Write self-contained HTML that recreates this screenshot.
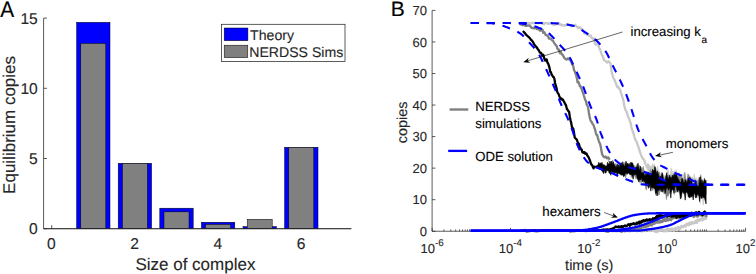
<!DOCTYPE html>
<html><head><meta charset="utf-8"><style>
html,body{margin:0;padding:0;background:#fff;}
body{width:756px;height:274px;overflow:hidden;font-family:"Liberation Sans",sans-serif;}
svg{display:block;}
</style></head><body>
<svg width="756" height="274" viewBox="0 0 756 274" font-family="Liberation Sans, sans-serif" text-rendering="geometricPrecision"><text transform="translate(0.35,16.7) scale(0.97,1.04)" font-size="21.5" fill="#000" stroke="#000" stroke-width="0.12">A</text>
<path d="M43.6,18.10 V228.7 H351.3" fill="none" stroke="#262626" stroke-width="0.75"/>
<path d="M43.6,228.70 h3.4" stroke="#262626" stroke-width="0.75"/>
<text transform="translate(37.80,234.20) scale(1,1.0)" font-size="15.6" text-anchor="end" fill="#262626" stroke="#262626" stroke-width="0.12" >0</text>
<path d="M43.6,158.50 h3.4" stroke="#262626" stroke-width="0.75"/>
<text transform="translate(37.80,164.00) scale(1,1.0)" font-size="15.6" text-anchor="end" fill="#262626" stroke="#262626" stroke-width="0.12" >5</text>
<path d="M43.6,88.30 h3.4" stroke="#262626" stroke-width="0.75"/>
<text transform="translate(37.80,93.80) scale(1,1.0)" font-size="15.6" text-anchor="end" fill="#262626" stroke="#262626" stroke-width="0.12" >10</text>
<path d="M43.6,18.10 h3.4" stroke="#262626" stroke-width="0.75"/>
<text transform="translate(37.80,23.60) scale(1,1.0)" font-size="15.6" text-anchor="end" fill="#262626" stroke="#262626" stroke-width="0.12" >15</text>
<path d="M51.70,228.7 v-3.6" stroke="#262626" stroke-width="0.75"/>
<text transform="translate(51.40,248.80) scale(1,1.0)" font-size="15.6" text-anchor="middle" fill="#262626" stroke="#262626" stroke-width="0.12" >0</text>
<path d="M134.90,228.7 v-3.6" stroke="#262626" stroke-width="0.75"/>
<text transform="translate(134.60,248.80) scale(1,1.0)" font-size="15.6" text-anchor="middle" fill="#262626" stroke="#262626" stroke-width="0.12" >2</text>
<path d="M218.10,228.7 v-3.6" stroke="#262626" stroke-width="0.75"/>
<text transform="translate(217.80,248.80) scale(1,1.0)" font-size="15.6" text-anchor="middle" fill="#262626" stroke="#262626" stroke-width="0.12" >4</text>
<path d="M301.30,228.7 v-3.6" stroke="#262626" stroke-width="0.75"/>
<text transform="translate(301.00,248.80) scale(1,1.0)" font-size="15.6" text-anchor="middle" fill="#262626" stroke="#262626" stroke-width="0.12" >6</text>
<rect x="76.60" y="22.31" width="33.40" height="206.39" fill="#0000ff" stroke="#000" stroke-width="0.5"/>
<rect x="118.20" y="163.27" width="33.40" height="65.43" fill="#0000ff" stroke="#000" stroke-width="0.5"/>
<rect x="159.80" y="208.20" width="33.40" height="20.50" fill="#0000ff" stroke="#000" stroke-width="0.5"/>
<rect x="201.40" y="222.24" width="33.40" height="6.46" fill="#0000ff" stroke="#000" stroke-width="0.5"/>
<rect x="243.00" y="226.59" width="33.40" height="2.11" fill="#0000ff" stroke="#000" stroke-width="0.5"/>
<rect x="284.60" y="147.27" width="33.40" height="81.43" fill="#0000ff" stroke="#000" stroke-width="0.5"/>
<rect x="80.80" y="43.37" width="25.00" height="185.33" fill="#808080" stroke="#000" stroke-width="0.5"/>
<rect x="122.40" y="163.27" width="25.00" height="65.43" fill="#808080" stroke="#000" stroke-width="0.5"/>
<rect x="164.00" y="211.85" width="25.00" height="16.85" fill="#808080" stroke="#000" stroke-width="0.5"/>
<rect x="205.60" y="224.35" width="25.00" height="4.35" fill="#808080" stroke="#000" stroke-width="0.5"/>
<rect x="247.20" y="219.29" width="25.00" height="9.41" fill="#808080" stroke="#000" stroke-width="0.5"/>
<rect x="288.80" y="147.27" width="25.00" height="81.43" fill="#808080" stroke="#000" stroke-width="0.5"/>
<path d="M43.6,228.7 H351.3" fill="none" stroke="#262626" stroke-width="0.75"/>
<text transform="translate(135.40,269.50) scale(1,1.0)" font-size="17" text-anchor="start" fill="#262626" stroke="#262626" stroke-width="0.12" >Size of complex</text>
<text transform="translate(14.6,193.9) rotate(-90)" font-size="17" fill="#262626" stroke="#262626" stroke-width="0.12">Equilibrium copies</text>
<rect x="221.5" y="24.3" width="123.5" height="37.2" fill="#fff" stroke="#262626" stroke-width="0.75"/>
<rect x="224.2" y="28" width="23.7" height="12.7" fill="#0000ff" stroke="#000" stroke-width="0.5"/>
<rect x="224.2" y="45.2" width="23.6" height="12.5" fill="#808080" stroke="#000" stroke-width="0.5"/>
<text transform="translate(250.12,39.60) scale(1,1.0)" font-size="14.1" text-anchor="start" fill="#262626" stroke="#262626" stroke-width="0.12" >Theory</text>
<text transform="translate(249.27,57.00) scale(1,1.0)" font-size="14.1" text-anchor="start" fill="#262626" stroke="#262626" stroke-width="0.12" >NERDSS Sims</text>
<text transform="translate(390.82,16.30) scale(1,1.0)" font-size="21.0" text-anchor="start" fill="#000" stroke="#000" stroke-width="0.12" >B</text>
<path d="M432.1,10.40 V231.25 H745.54" fill="none" stroke="#262626" stroke-width="0.75"/>
<path d="M432.1,231.25 h3.3" stroke="#262626" stroke-width="0.75"/>
<text transform="translate(427.00,235.95) scale(1,1.0)" font-size="13" text-anchor="end" fill="#262626" stroke="#262626" stroke-width="0.12" >0</text>
<path d="M432.1,199.70 h3.3" stroke="#262626" stroke-width="0.75"/>
<text transform="translate(427.00,204.40) scale(1,1.0)" font-size="13" text-anchor="end" fill="#262626" stroke="#262626" stroke-width="0.12" >10</text>
<path d="M432.1,168.15 h3.3" stroke="#262626" stroke-width="0.75"/>
<text transform="translate(427.00,172.85) scale(1,1.0)" font-size="13" text-anchor="end" fill="#262626" stroke="#262626" stroke-width="0.12" >20</text>
<path d="M432.1,136.60 h3.3" stroke="#262626" stroke-width="0.75"/>
<text transform="translate(427.00,141.30) scale(1,1.0)" font-size="13" text-anchor="end" fill="#262626" stroke="#262626" stroke-width="0.12" >30</text>
<path d="M432.1,105.05 h3.3" stroke="#262626" stroke-width="0.75"/>
<text transform="translate(427.00,109.75) scale(1,1.0)" font-size="13" text-anchor="end" fill="#262626" stroke="#262626" stroke-width="0.12" >40</text>
<path d="M432.1,73.50 h3.3" stroke="#262626" stroke-width="0.75"/>
<text transform="translate(427.00,78.20) scale(1,1.0)" font-size="13" text-anchor="end" fill="#262626" stroke="#262626" stroke-width="0.12" >50</text>
<path d="M432.1,41.95 h3.3" stroke="#262626" stroke-width="0.75"/>
<text transform="translate(427.00,46.65) scale(1,1.0)" font-size="13" text-anchor="end" fill="#262626" stroke="#262626" stroke-width="0.12" >60</text>
<path d="M432.1,10.40 h3.3" stroke="#262626" stroke-width="0.75"/>
<text transform="translate(427.00,15.10) scale(1,1.0)" font-size="13" text-anchor="end" fill="#262626" stroke="#262626" stroke-width="0.12" >70</text>
<path d="M432.10,231.25 v-3.4" stroke="#262626" stroke-width="0.75"/>
<path d="M443.89,231.25 v-1.8" stroke="#262626" stroke-width="0.75"/>
<path d="M450.79,231.25 v-1.8" stroke="#262626" stroke-width="0.75"/>
<path d="M455.69,231.25 v-1.8" stroke="#262626" stroke-width="0.75"/>
<path d="M459.49,231.25 v-1.8" stroke="#262626" stroke-width="0.75"/>
<path d="M462.59,231.25 v-1.8" stroke="#262626" stroke-width="0.75"/>
<path d="M465.21,231.25 v-1.8" stroke="#262626" stroke-width="0.75"/>
<path d="M467.48,231.25 v-1.8" stroke="#262626" stroke-width="0.75"/>
<path d="M469.49,231.25 v-1.8" stroke="#262626" stroke-width="0.75"/>
<text x="432.10" y="252.6" font-size="13" text-anchor="middle" fill="#262626" stroke="#262626" stroke-width="0.12">10<tspan font-size="9.8" dy="-6.2">-6</tspan></text>
<path d="M471.28,231.25 v-1.8" stroke="#262626" stroke-width="0.75"/>
<path d="M483.07,231.25 v-1.8" stroke="#262626" stroke-width="0.75"/>
<path d="M489.97,231.25 v-1.8" stroke="#262626" stroke-width="0.75"/>
<path d="M494.87,231.25 v-1.8" stroke="#262626" stroke-width="0.75"/>
<path d="M498.67,231.25 v-1.8" stroke="#262626" stroke-width="0.75"/>
<path d="M501.77,231.25 v-1.8" stroke="#262626" stroke-width="0.75"/>
<path d="M504.39,231.25 v-1.8" stroke="#262626" stroke-width="0.75"/>
<path d="M506.66,231.25 v-1.8" stroke="#262626" stroke-width="0.75"/>
<path d="M508.67,231.25 v-1.8" stroke="#262626" stroke-width="0.75"/>
<path d="M510.46,231.25 v-3.4" stroke="#262626" stroke-width="0.75"/>
<path d="M522.25,231.25 v-1.8" stroke="#262626" stroke-width="0.75"/>
<path d="M529.15,231.25 v-1.8" stroke="#262626" stroke-width="0.75"/>
<path d="M534.05,231.25 v-1.8" stroke="#262626" stroke-width="0.75"/>
<path d="M537.85,231.25 v-1.8" stroke="#262626" stroke-width="0.75"/>
<path d="M540.95,231.25 v-1.8" stroke="#262626" stroke-width="0.75"/>
<path d="M543.57,231.25 v-1.8" stroke="#262626" stroke-width="0.75"/>
<path d="M545.84,231.25 v-1.8" stroke="#262626" stroke-width="0.75"/>
<path d="M547.85,231.25 v-1.8" stroke="#262626" stroke-width="0.75"/>
<text x="510.46" y="252.6" font-size="13" text-anchor="middle" fill="#262626" stroke="#262626" stroke-width="0.12">10<tspan font-size="9.8" dy="-6.2">-4</tspan></text>
<path d="M549.64,231.25 v-1.8" stroke="#262626" stroke-width="0.75"/>
<path d="M561.43,231.25 v-1.8" stroke="#262626" stroke-width="0.75"/>
<path d="M568.33,231.25 v-1.8" stroke="#262626" stroke-width="0.75"/>
<path d="M573.23,231.25 v-1.8" stroke="#262626" stroke-width="0.75"/>
<path d="M577.03,231.25 v-1.8" stroke="#262626" stroke-width="0.75"/>
<path d="M580.13,231.25 v-1.8" stroke="#262626" stroke-width="0.75"/>
<path d="M582.75,231.25 v-1.8" stroke="#262626" stroke-width="0.75"/>
<path d="M585.02,231.25 v-1.8" stroke="#262626" stroke-width="0.75"/>
<path d="M587.03,231.25 v-1.8" stroke="#262626" stroke-width="0.75"/>
<path d="M588.82,231.25 v-3.4" stroke="#262626" stroke-width="0.75"/>
<path d="M600.61,231.25 v-1.8" stroke="#262626" stroke-width="0.75"/>
<path d="M607.51,231.25 v-1.8" stroke="#262626" stroke-width="0.75"/>
<path d="M612.41,231.25 v-1.8" stroke="#262626" stroke-width="0.75"/>
<path d="M616.21,231.25 v-1.8" stroke="#262626" stroke-width="0.75"/>
<path d="M619.31,231.25 v-1.8" stroke="#262626" stroke-width="0.75"/>
<path d="M621.93,231.25 v-1.8" stroke="#262626" stroke-width="0.75"/>
<path d="M624.20,231.25 v-1.8" stroke="#262626" stroke-width="0.75"/>
<path d="M626.21,231.25 v-1.8" stroke="#262626" stroke-width="0.75"/>
<text x="588.82" y="252.6" font-size="13" text-anchor="middle" fill="#262626" stroke="#262626" stroke-width="0.12">10<tspan font-size="9.8" dy="-6.2">-2</tspan></text>
<path d="M628.00,231.25 v-1.8" stroke="#262626" stroke-width="0.75"/>
<path d="M639.79,231.25 v-1.8" stroke="#262626" stroke-width="0.75"/>
<path d="M646.69,231.25 v-1.8" stroke="#262626" stroke-width="0.75"/>
<path d="M651.59,231.25 v-1.8" stroke="#262626" stroke-width="0.75"/>
<path d="M655.39,231.25 v-1.8" stroke="#262626" stroke-width="0.75"/>
<path d="M658.49,231.25 v-1.8" stroke="#262626" stroke-width="0.75"/>
<path d="M661.11,231.25 v-1.8" stroke="#262626" stroke-width="0.75"/>
<path d="M663.38,231.25 v-1.8" stroke="#262626" stroke-width="0.75"/>
<path d="M665.39,231.25 v-1.8" stroke="#262626" stroke-width="0.75"/>
<path d="M667.18,231.25 v-3.4" stroke="#262626" stroke-width="0.75"/>
<path d="M678.97,231.25 v-1.8" stroke="#262626" stroke-width="0.75"/>
<path d="M685.87,231.25 v-1.8" stroke="#262626" stroke-width="0.75"/>
<path d="M690.77,231.25 v-1.8" stroke="#262626" stroke-width="0.75"/>
<path d="M694.57,231.25 v-1.8" stroke="#262626" stroke-width="0.75"/>
<path d="M697.67,231.25 v-1.8" stroke="#262626" stroke-width="0.75"/>
<path d="M700.29,231.25 v-1.8" stroke="#262626" stroke-width="0.75"/>
<path d="M702.56,231.25 v-1.8" stroke="#262626" stroke-width="0.75"/>
<path d="M704.57,231.25 v-1.8" stroke="#262626" stroke-width="0.75"/>
<text x="667.18" y="252.6" font-size="13" text-anchor="middle" fill="#262626" stroke="#262626" stroke-width="0.12">10<tspan font-size="9.8" dy="-6.2">0</tspan></text>
<path d="M706.36,231.25 v-1.8" stroke="#262626" stroke-width="0.75"/>
<path d="M718.15,231.25 v-1.8" stroke="#262626" stroke-width="0.75"/>
<path d="M725.05,231.25 v-1.8" stroke="#262626" stroke-width="0.75"/>
<path d="M729.95,231.25 v-1.8" stroke="#262626" stroke-width="0.75"/>
<path d="M733.75,231.25 v-1.8" stroke="#262626" stroke-width="0.75"/>
<path d="M736.85,231.25 v-1.8" stroke="#262626" stroke-width="0.75"/>
<path d="M739.47,231.25 v-1.8" stroke="#262626" stroke-width="0.75"/>
<path d="M741.74,231.25 v-1.8" stroke="#262626" stroke-width="0.75"/>
<path d="M743.75,231.25 v-1.8" stroke="#262626" stroke-width="0.75"/>
<path d="M745.54,231.25 v-3.4" stroke="#262626" stroke-width="0.75"/>
<text x="745.54" y="252.6" font-size="13" text-anchor="middle" fill="#262626" stroke="#262626" stroke-width="0.12">10<tspan font-size="9.8" dy="-6.2">2</tspan></text>
<path d="M521.50,23.02 L522.20,23.02 L522.90,23.04 L523.60,23.02 L524.30,23.02 L525.00,23.06 L525.70,23.17 L526.40,23.31 L527.10,23.27 L527.80,23.02 L528.50,23.02 L529.20,23.02 L529.90,23.36 L530.60,23.76 L531.30,23.02 L532.00,23.02 L532.70,23.02 L533.40,23.02 L534.10,23.02 L534.80,23.02 L535.50,23.02 L536.20,23.02 L536.90,23.17 L537.60,23.16 L538.30,23.25 L539.00,23.02 L539.70,23.02 L540.40,23.02 L541.10,23.02 L541.80,23.02 L542.50,23.02 L543.20,23.47 L543.90,24.33 L544.60,23.10 L545.30,23.02 L546.00,23.10 L546.70,23.02 L547.40,23.63 L548.10,23.31 L548.80,23.88 L549.50,23.52 L550.20,23.02 L550.90,23.25 L551.60,23.02 L552.30,23.88 L553.00,24.01 L553.70,25.05 L554.40,24.57 L555.10,24.15 L555.80,24.15 L556.50,24.24 L557.20,23.02 L557.90,23.02 L558.60,23.86 L559.30,23.02 L560.00,24.86 L560.70,25.20 L561.40,24.94 L562.10,24.56 L562.80,25.38 L563.50,25.61 L564.20,25.07 L564.90,25.46 L565.60,25.68 L566.30,24.69 L567.00,23.89 L567.70,24.32 L568.40,24.55 L569.10,24.75 L569.80,25.30 L570.50,25.71 L571.20,26.49 L571.90,25.53 L572.60,25.68 L573.30,25.90 L574.00,25.83 L574.70,25.59 L575.40,24.77 L576.10,25.89 L576.80,26.79 L577.50,26.93 L578.20,28.07 L578.90,27.08 L579.60,27.09 L580.30,27.60 L581.00,28.92 L581.70,29.24 L582.40,29.40 L583.10,30.16 L583.80,31.45 L584.50,33.61 L585.20,32.72 L585.90,33.47 L586.60,34.48 L587.30,33.69 L588.00,33.85 L588.70,35.66 L589.40,35.75 L590.10,36.15 L590.80,35.50 L591.50,37.91 L592.20,38.32 L592.90,38.71 L593.60,37.97 L594.30,40.15 L595.00,43.55 L595.70,44.67 L596.40,44.36 L597.10,44.19 L597.80,43.88 L598.50,45.51 L599.20,48.21 L599.90,48.99 L600.60,51.04 L601.30,53.39 L602.00,55.41 L602.70,56.05 L603.40,58.53 L604.10,60.22 L604.80,60.53 L605.50,60.84 L606.20,61.82 L606.90,62.61 L607.60,62.17 L608.30,61.33 L609.00,61.72 L609.70,62.45 L610.40,63.23 L611.10,68.31 L611.80,72.43 L612.50,74.95 L613.20,77.30 L613.90,79.14 L614.60,79.89 L615.30,82.11 L616.00,83.29 L616.70,86.01 L617.40,87.22 L618.10,86.36 L618.80,88.05 L619.50,88.94 L620.20,89.95 L620.90,92.61 L621.60,94.32 L622.30,96.75 L623.00,98.85 L623.70,102.30 L624.40,106.01 L625.10,108.69 L625.80,110.66 L626.50,111.66 L627.20,113.71 L627.90,115.92 L628.60,117.89 L629.30,118.83 L630.00,121.82 L630.70,122.83 L631.40,126.98 L632.10,129.94 L632.80,131.36 L633.50,133.26 L634.20,136.31 L634.90,138.18 L635.60,140.52 L636.30,141.23 L637.00,142.65 L637.70,145.35 L638.40,146.77 L639.10,149.19 L639.80,151.29 L640.50,153.26 L641.20,155.74 L641.90,156.95 L642.60,158.05 L643.30,159.15 L644.00,159.61 L644.70,161.43 L645.40,163.85" fill="none" stroke="#c8c8c8" stroke-width="2.3" stroke-linejoin="round"/>
<path d="M644.00,163.50 L644.80,164.01 L645.60,164.29 L646.40,165.48 L647.20,163.71 L648.00,163.13 L648.80,164.19 L649.60,165.71 L650.40,165.91 L651.20,167.02 L652.00,165.53 L652.80,163.72 L653.60,165.98 L654.40,163.94 L655.20,167.13 L656.00,171.40 L656.80,171.66 L657.60,165.89 L658.40,171.82 L659.20,172.14 L660.00,173.01 L660.80,173.21 L661.60,174.38 L662.40,173.65 L663.20,175.71 L664.00,176.24 L664.80,175.72 L665.60,176.05 L666.40,174.09 L667.20,173.76 L668.00,169.36 L668.80,175.12 L669.60,175.35 L670.40,173.49 L671.20,167.84 L672.00,174.47 L672.80,170.74 L673.60,176.23 L674.40,170.81 L675.20,172.88 L676.00,169.79 L676.80,172.54 L677.60,173.21 L678.40,172.55 L679.20,176.60 L680.00,176.75 L680.80,176.63 L681.60,175.75 L682.40,175.05 L683.20,173.63 L684.00,178.42 L684.80,177.61 L685.60,181.04 L686.40,180.87 L687.20,181.42 L688.00,180.24 L688.80,175.49 L689.60,175.09 L690.40,179.41 L691.20,178.22 L692.00,176.69 L692.80,177.37 L693.60,179.15 L694.40,173.75 L695.20,181.53 L696.00,177.65 L696.80,182.45 L697.60,181.58 L698.40,177.20 L699.20,184.35 L700.00,184.80 L700.80,186.45 L701.60,185.67 L702.40,185.55 L703.20,185.80 L704.00,181.22 L704.80,179.74 L705.60,182.68 L706.40,184.54 L706.40,202.85 L705.60,199.88 L704.80,198.77 L704.00,200.29 L703.20,205.31 L702.40,197.06 L701.60,196.05 L700.80,195.16 L700.00,203.75 L699.20,193.99 L698.40,193.80 L697.60,197.89 L696.80,196.41 L696.00,194.87 L695.20,193.09 L694.40,191.44 L693.60,192.99 L692.80,192.70 L692.00,189.83 L691.20,198.01 L690.40,191.32 L689.60,192.63 L688.80,194.63 L688.00,191.07 L687.20,191.12 L686.40,189.61 L685.60,190.80 L684.80,190.81 L684.00,188.66 L683.20,192.79 L682.40,192.34 L681.60,193.33 L680.80,196.31 L680.00,192.52 L679.20,187.35 L678.40,189.18 L677.60,188.27 L676.80,187.31 L676.00,192.80 L675.20,188.77 L674.40,195.36 L673.60,191.71 L672.80,184.70 L672.00,183.72 L671.20,183.23 L670.40,183.07 L669.60,186.56 L668.80,187.25 L668.00,185.55 L667.20,184.55 L666.40,190.34 L665.60,184.06 L664.80,185.55 L664.00,182.86 L663.20,182.42 L662.40,184.49 L661.60,180.82 L660.80,181.80 L660.00,179.47 L659.20,182.80 L658.40,178.88 L657.60,179.89 L656.80,183.70 L656.00,179.19 L655.20,178.99 L654.40,178.64 L653.60,176.20 L652.80,175.07 L652.00,179.22 L651.20,175.64 L650.40,173.89 L649.60,173.21 L648.80,172.58 L648.00,170.69 L647.20,168.76 L646.40,168.39 L645.60,166.02 L644.80,164.75 L644.00,163.50 Z" fill="#c8c8c8" stroke="#c8c8c8" stroke-width="0.6" stroke-linejoin="round"/>
<path d="M519.50,24.00 L520.20,24.24 L520.90,24.52 L521.60,24.76 L522.30,24.79 L523.00,25.20 L523.70,25.20 L524.40,25.18 L525.10,25.51 L525.80,25.87 L526.50,25.90 L527.20,25.75 L527.90,25.40 L528.60,25.56 L529.30,25.45 L530.00,26.14 L530.70,26.82 L531.40,27.67 L532.10,28.06 L532.80,28.02 L533.50,27.78 L534.20,28.48 L534.90,27.88 L535.60,28.09 L536.30,28.64 L537.00,29.21 L537.70,27.92 L538.40,28.45 L539.10,29.67 L539.80,30.66 L540.50,29.39 L541.20,30.59 L541.90,30.12 L542.60,29.79 L543.30,32.90 L544.00,31.91 L544.70,32.90 L545.40,34.54 L546.10,35.35 L546.80,35.20 L547.50,35.75 L548.20,36.56 L548.90,38.57 L549.60,38.45 L550.30,38.56 L551.00,38.77 L551.70,40.07 L552.40,40.44 L553.10,40.78 L553.80,42.42 L554.50,43.43 L555.20,44.47 L555.90,45.31 L556.60,45.76 L557.30,48.56 L558.00,49.31 L558.70,49.33 L559.40,51.94 L560.10,53.24 L560.80,51.71 L561.50,53.61 L562.20,54.77 L562.90,55.20 L563.60,56.56 L564.30,57.90 L565.00,58.52 L565.70,58.95 L566.40,59.51 L567.10,59.40 L567.80,58.35 L568.50,59.12 L569.20,58.78 L569.90,59.71 L570.60,60.60 L571.30,61.80 L572.00,63.86 L572.70,65.12 L573.40,66.95 L574.10,70.25 L574.80,71.50 L575.50,73.37 L576.20,75.43 L576.90,78.26 L577.60,82.44 L578.30,81.75 L579.00,83.02 L579.70,86.05 L580.40,85.98 L581.10,88.04 L581.80,89.29 L582.50,91.78 L583.20,93.16 L583.90,95.76 L584.60,97.99 L585.30,100.13 L586.00,101.19 L586.70,104.80 L587.40,105.55 L588.10,107.32 L588.80,112.22 L589.50,116.25 L590.20,119.37 L590.90,121.19 L591.60,121.69 L592.30,123.70 L593.00,124.24 L593.70,125.54 L594.40,128.04 L595.10,129.54 L595.80,132.77 L596.50,134.79 L597.20,135.02 L597.90,137.87 L598.60,140.37 L599.30,142.33 L600.00,143.54 L600.70,146.38 L601.40,150.53 L602.10,154.28 L602.80,155.59 L603.50,156.47 L604.20,157.33 L604.90,157.39 L605.60,156.55 L606.30,157.11 L607.00,158.34 L607.70,157.69 L608.40,157.42 L609.10,158.84 L609.80,159.76" fill="none" stroke="#808080" stroke-width="2.3" stroke-linejoin="round"/>
<path d="M608.00,160.50 L608.80,161.08 L609.60,161.48 L610.40,161.48 L611.20,162.21 L612.00,160.77 L612.80,160.36 L613.60,163.61 L614.40,164.22 L615.20,163.43 L616.00,165.63 L616.80,165.11 L617.60,165.51 L618.40,165.04 L619.20,163.69 L620.00,163.25 L620.80,163.76 L621.60,165.49 L622.40,165.44 L623.20,166.51 L624.00,164.19 L624.80,162.53 L625.60,165.32 L626.40,162.34 L627.20,166.40 L628.00,163.64 L628.80,166.83 L629.60,166.27 L630.40,165.41 L631.20,166.13 L632.00,166.08 L632.80,165.58 L633.60,167.28 L634.40,165.52 L635.20,168.11 L636.00,166.09 L636.80,164.42 L637.60,168.70 L638.40,166.82 L639.20,165.27 L640.00,167.80 L640.80,169.16 L641.60,167.37 L642.40,169.64 L643.20,166.43 L644.00,170.22 L644.80,173.35 L645.60,174.81 L646.40,176.33 L647.20,177.13 L648.00,173.02 L648.80,177.52 L649.60,176.60 L650.40,169.49 L651.20,176.56 L652.00,170.85 L652.80,176.12 L653.60,171.81 L654.40,174.74 L655.20,170.43 L656.00,177.56 L656.80,174.11 L657.60,176.44 L658.40,172.30 L659.20,171.69 L660.00,178.55 L660.80,175.44 L661.60,181.13 L662.40,180.91 L663.20,181.51 L664.00,182.00 L664.80,177.39 L665.60,176.38 L666.40,181.18 L667.20,175.64 L668.00,179.10 L668.80,180.34 L669.60,183.57 L670.40,175.45 L671.20,182.68 L672.00,175.45 L672.80,180.38 L673.60,183.07 L674.40,177.51 L675.20,181.17 L676.00,180.90 L676.80,176.55 L677.60,179.38 L678.40,175.00 L679.20,173.45 L680.00,179.54 L680.80,176.14 L681.60,179.88 L682.40,179.78 L683.20,179.66 L684.00,179.67 L684.80,172.19 L685.60,177.42 L686.40,180.76 L687.20,179.09 L688.00,173.77 L688.80,176.19 L689.60,180.62 L690.40,181.78 L691.20,180.86 L692.00,183.54 L692.80,184.18 L693.60,184.53 L694.40,182.17 L695.20,179.22 L696.00,184.10 L696.80,180.16 L697.60,183.12 L698.40,178.93 L699.20,181.97 L700.00,181.23 L700.80,174.67 L701.60,180.06 L702.40,181.87 L703.20,181.47 L704.00,183.31 L704.80,181.37 L705.60,181.44 L706.40,182.74 L706.40,194.28 L705.60,193.86 L704.80,200.56 L704.00,197.12 L703.20,193.41 L702.40,196.87 L701.60,192.28 L700.80,192.47 L700.00,193.21 L699.20,194.72 L698.40,195.64 L697.60,193.41 L696.80,193.15 L696.00,193.67 L695.20,192.77 L694.40,193.68 L693.60,192.79 L692.80,195.44 L692.00,197.17 L691.20,195.11 L690.40,191.24 L689.60,189.60 L688.80,190.13 L688.00,192.21 L687.20,190.51 L686.40,188.93 L685.60,192.21 L684.80,192.20 L684.00,190.45 L683.20,192.45 L682.40,186.80 L681.60,187.17 L680.80,192.84 L680.00,186.82 L679.20,192.55 L678.40,191.89 L677.60,188.75 L676.80,188.70 L676.00,191.71 L675.20,192.71 L674.40,189.18 L673.60,190.62 L672.80,189.83 L672.00,190.83 L671.20,191.56 L670.40,192.51 L669.60,193.31 L668.80,194.34 L668.00,196.42 L667.20,194.77 L666.40,199.60 L665.60,191.92 L664.80,193.60 L664.00,194.03 L663.20,189.42 L662.40,192.46 L661.60,188.96 L660.80,190.45 L660.00,189.84 L659.20,194.92 L658.40,195.08 L657.60,190.16 L656.80,190.47 L656.00,195.65 L655.20,188.84 L654.40,188.77 L653.60,187.47 L652.80,190.59 L652.00,186.57 L651.20,186.17 L650.40,185.39 L649.60,184.73 L648.80,183.21 L648.00,187.05 L647.20,184.07 L646.40,190.15 L645.60,187.97 L644.80,182.40 L644.00,185.27 L643.20,182.49 L642.40,180.92 L641.60,182.66 L640.80,179.96 L640.00,183.19 L639.20,179.10 L638.40,177.45 L637.60,180.26 L636.80,175.56 L636.00,179.08 L635.20,177.00 L634.40,174.60 L633.60,174.23 L632.80,175.37 L632.00,173.99 L631.20,177.52 L630.40,173.39 L629.60,174.19 L628.80,173.71 L628.00,173.16 L627.20,174.82 L626.40,173.93 L625.60,177.99 L624.80,173.90 L624.00,176.36 L623.20,172.21 L622.40,172.09 L621.60,170.52 L620.80,170.77 L620.00,170.51 L619.20,170.34 L618.40,173.16 L617.60,171.10 L616.80,169.83 L616.00,169.94 L615.20,168.09 L614.40,167.29 L613.60,166.54 L612.80,166.63 L612.00,164.72 L611.20,165.57 L610.40,163.52 L609.60,162.59 L608.80,161.39 L608.00,160.50 Z" fill="#808080" stroke="#808080" stroke-width="0.6" stroke-linejoin="round"/>
<path d="M522.90,31.00 L523.60,31.75 L524.30,32.50 L525.00,33.43 L525.70,34.11 L526.40,35.11 L527.10,35.63 L527.80,36.25 L528.50,36.85 L529.20,37.45 L529.90,38.21 L530.60,39.20 L531.30,40.09 L532.00,40.43 L532.70,41.71 L533.40,42.79 L534.10,44.06 L534.80,45.14 L535.50,46.07 L536.20,46.73 L536.90,47.74 L537.60,48.76 L538.30,49.90 L539.00,50.59 L539.70,52.25 L540.40,52.86 L541.10,52.85 L541.80,54.62 L542.50,55.65 L543.20,54.63 L543.90,57.12 L544.60,59.51 L545.30,60.47 L546.00,59.67 L546.70,59.43 L547.40,62.58 L548.10,63.54 L548.80,65.32 L549.50,67.79 L550.20,71.71 L550.90,72.18 L551.60,74.51 L552.30,75.39 L553.00,76.81 L553.70,77.04 L554.40,78.84 L555.10,83.06 L555.80,85.93 L556.50,87.95 L557.20,91.60 L557.90,93.31 L558.60,94.03 L559.30,96.27 L560.00,97.50 L560.70,98.93 L561.40,98.45 L562.10,99.50 L562.80,99.51 L563.50,100.91 L564.20,101.93 L564.90,103.61 L565.60,104.45 L566.30,106.41 L567.00,109.24 L567.70,109.87 L568.40,111.16 L569.10,111.87 L569.80,116.67 L570.50,120.32 L571.20,122.89 L571.90,126.83 L572.60,127.85 L573.30,128.94 L574.00,132.60 L574.70,137.46 L575.40,138.19 L576.10,138.99 L576.80,139.66 L577.50,141.63 L578.20,143.15 L578.90,143.82 L579.60,146.63 L580.30,147.64 L581.00,149.41 L581.70,149.67 L582.40,152.23 L583.10,151.94 L583.80,152.81 L584.50,152.13 L585.20,153.68 L585.90,153.28 L586.60,153.50 L587.30,155.57 L588.00,156.31 L588.70,157.50 L589.40,159.18 L590.10,160.85 L590.80,163.32 L591.50,164.58 L592.20,165.18 L592.90,167.02 L593.60,168.36 L594.30,166.71 L595.00,166.98 L595.70,166.78" fill="none" stroke="#000" stroke-width="2.3" stroke-linejoin="round"/>
<path d="M594.00,166.50 L594.80,166.22 L595.60,166.19 L596.40,165.77 L597.20,165.47 L598.00,164.74 L598.80,162.25 L599.60,164.30 L600.40,162.76 L601.20,163.96 L602.00,162.29 L602.80,165.09 L603.60,164.83 L604.40,164.82 L605.20,166.20 L606.00,165.66 L606.80,166.34 L607.60,162.14 L608.40,164.00 L609.20,163.91 L610.00,161.44 L610.80,164.44 L611.60,161.32 L612.40,165.59 L613.20,161.71 L614.00,164.33 L614.80,165.61 L615.60,166.93 L616.40,167.72 L617.20,163.64 L618.00,168.39 L618.80,164.83 L619.60,168.10 L620.40,164.07 L621.20,162.58 L622.00,165.55 L622.80,161.65 L623.60,165.22 L624.40,166.04 L625.20,165.40 L626.00,161.14 L626.80,165.49 L627.60,162.94 L628.40,165.43 L629.20,163.31 L630.00,166.28 L630.80,161.99 L631.60,162.95 L632.40,162.78 L633.20,164.47 L634.00,168.46 L634.80,167.72 L635.60,167.93 L636.40,166.80 L637.20,168.02 L638.00,163.12 L638.80,168.99 L639.60,170.38 L640.40,166.12 L641.20,172.30 L642.00,172.94 L642.80,172.55 L643.60,172.44 L644.40,175.45 L645.20,176.02 L646.00,172.48 L646.80,175.07 L647.60,172.18 L648.40,172.50 L649.20,173.03 L650.00,175.73 L650.80,174.84 L651.60,174.96 L652.40,169.29 L653.20,170.56 L654.00,171.04 L654.80,166.46 L655.60,168.25 L656.40,174.18 L657.20,170.83 L658.00,173.22 L658.80,175.47 L659.60,178.25 L660.40,176.26 L661.20,177.79 L662.00,172.46 L662.80,174.19 L663.60,179.58 L664.40,180.98 L665.20,181.34 L666.00,175.96 L666.80,172.64 L667.60,179.10 L668.40,178.93 L669.20,174.92 L670.00,177.38 L670.80,177.31 L671.60,178.62 L672.40,175.03 L673.20,177.30 L674.00,173.73 L674.80,175.21 L675.60,174.46 L676.40,173.91 L677.20,176.58 L678.00,178.98 L678.80,179.63 L679.60,181.95 L680.40,182.56 L681.20,181.51 L682.00,177.92 L682.80,179.46 L683.60,183.07 L684.40,183.06 L685.20,179.65 L686.00,181.03 L686.80,183.44 L687.60,180.40 L688.40,177.79 L689.20,182.57 L690.00,176.77 L690.80,184.79 L691.60,179.30 L692.40,184.39 L693.20,184.18 L694.00,183.76 L694.80,184.57 L695.60,180.57 L696.40,184.48 L697.20,185.79 L698.00,186.15 L698.80,186.63 L699.60,177.35 L700.40,176.80 L701.20,184.05 L702.00,179.64 L702.80,183.55 L703.60,182.27 L704.40,178.47 L705.20,181.45 L706.00,180.20 L706.00,203.98 L705.20,198.68 L704.40,197.88 L703.60,197.73 L702.80,196.12 L702.00,198.54 L701.20,198.17 L700.40,195.11 L699.60,201.56 L698.80,194.94 L698.00,194.55 L697.20,194.55 L696.40,197.70 L695.60,197.98 L694.80,193.20 L694.00,194.05 L693.20,199.97 L692.40,194.54 L691.60,196.60 L690.80,196.43 L690.00,197.73 L689.20,197.45 L688.40,196.99 L687.60,193.32 L686.80,192.55 L686.00,191.88 L685.20,200.14 L684.40,193.20 L683.60,193.54 L682.80,190.75 L682.00,192.93 L681.20,198.07 L680.40,199.12 L679.60,191.60 L678.80,189.11 L678.00,190.70 L677.20,192.16 L676.40,186.56 L675.60,186.48 L674.80,187.00 L674.00,193.47 L673.20,189.04 L672.40,189.47 L671.60,189.37 L670.80,198.04 L670.00,188.93 L669.20,188.30 L668.40,190.24 L667.60,188.16 L666.80,187.24 L666.00,189.60 L665.20,193.48 L664.40,188.50 L663.60,188.75 L662.80,191.78 L662.00,188.32 L661.20,191.76 L660.40,188.73 L659.60,189.20 L658.80,190.86 L658.00,188.64 L657.20,196.05 L656.40,192.02 L655.60,193.63 L654.80,188.47 L654.00,188.60 L653.20,186.81 L652.40,188.16 L651.60,186.82 L650.80,191.11 L650.00,184.37 L649.20,187.50 L648.40,188.27 L647.60,183.15 L646.80,184.92 L646.00,185.50 L645.20,182.42 L644.40,181.59 L643.60,180.33 L642.80,181.65 L642.00,179.92 L641.20,177.83 L640.40,180.00 L639.60,179.25 L638.80,182.01 L638.00,178.94 L637.20,178.87 L636.40,174.11 L635.60,174.44 L634.80,175.19 L634.00,173.49 L633.20,179.25 L632.40,176.52 L631.60,174.57 L630.80,174.21 L630.00,174.88 L629.20,173.25 L628.40,172.72 L627.60,173.57 L626.80,173.62 L626.00,173.06 L625.20,173.55 L624.40,175.96 L623.60,176.67 L622.80,174.89 L622.00,174.82 L621.20,175.18 L620.40,174.54 L619.60,173.85 L618.80,173.62 L618.00,172.88 L617.20,176.27 L616.40,171.90 L615.60,173.03 L614.80,172.81 L614.00,173.37 L613.20,172.00 L612.40,172.09 L611.60,171.30 L610.80,175.28 L610.00,173.17 L609.20,173.32 L608.40,170.66 L607.60,170.96 L606.80,169.95 L606.00,173.02 L605.20,173.10 L604.40,170.26 L603.60,173.72 L602.80,172.10 L602.00,171.15 L601.20,170.01 L600.40,169.01 L599.60,169.34 L598.80,168.23 L598.00,168.07 L597.20,167.68 L596.40,167.19 L595.60,166.82 L594.80,166.63 L594.00,166.50 Z" fill="#000" stroke="#000" stroke-width="0.6" stroke-linejoin="round"/>
<path d="M521.50,230.60 L522.50,230.43 L523.50,230.18 L524.50,229.73 L525.50,229.80 L526.50,230.14 L527.50,230.21 L528.50,230.36 L529.50,230.57 L530.50,230.42 L531.50,230.91 L532.50,230.71 L533.50,230.76 L534.50,231.22 L535.50,231.10 L536.50,231.05 L537.50,230.89 L538.50,230.90 L539.50,230.49 L540.50,230.39 L541.50,230.72 L542.50,230.74 L543.50,230.67 L544.50,230.73 L545.50,230.78 L546.50,230.78 L547.50,230.85 L548.50,230.52 L549.50,230.64 L550.50,230.51 L551.50,230.66 L552.50,230.65 L553.50,230.46 L554.50,230.47 L555.50,230.31 L556.50,230.53 L557.50,230.53 L558.50,230.69 L559.50,230.48 L560.50,230.78 L561.50,230.70 L562.50,230.92 L563.50,231.02 L564.50,230.76 L565.50,230.79 L566.50,230.66 L567.50,230.72 L568.50,230.95 L569.50,231.01 L570.50,231.13 L571.50,230.85 L572.50,230.84 L573.50,230.86 L574.50,231.01 L575.50,230.83 L576.50,230.89 L577.50,230.92 L578.50,230.60 L579.50,230.41 L580.50,230.51 L581.50,230.31 L582.50,230.14 L583.50,230.36 L584.50,230.44 L585.50,230.41 L586.50,230.45 L587.50,230.40 L588.50,230.33 L589.50,230.28 L590.50,230.39 L591.49,230.64 L592.47,230.54 L593.43,230.53 L594.37,230.49 L595.30,230.28 L596.21,230.36 L597.10,230.54 L597.99,230.39 L598.85,230.56 L599.71,230.45 L600.54,230.66 L601.37,230.92 L602.18,230.67 L602.98,230.45 L603.76,230.39 L604.53,230.13 L605.29,229.86 L606.03,230.26 L606.77,230.55 L607.49,230.31 L608.19,230.27 L608.89,230.06 L609.58,230.44 L610.25,229.58 L610.91,230.04 L611.56,230.34 L612.20,229.61 L612.83,230.10 L613.45,230.56 L614.06,230.20 L614.66,230.43 L615.25,229.78 L615.83,230.62 L616.40,230.07 L616.96,230.63 L617.51,230.91 L618.05,230.74 L618.58,231.18 L619.11,231.02 L619.62,230.63 L620.13,231.00 L620.63,230.31 L621.12,229.27 L621.60,230.78 L622.07,230.66 L622.54,230.00 L622.99,230.05 L623.44,230.91 L623.89,230.36 L624.32,230.31 L624.75,230.41 L625.17,231.84 L625.58,230.42 L625.99,229.83 L626.39,230.81 L626.79,230.27 L627.17,229.90 L627.55,230.90 L627.93,230.48 L628.29,231.01 L628.66,230.46 L629.01,231.36 L629.36,231.13 L629.71,230.42 L630.04,230.75 L630.38,231.36 L630.70,230.71 L631.03,229.72 L631.34,230.12 L631.65,230.23 L631.96,230.79 L632.26,230.27 L632.56,230.94 L632.86,230.47 L633.16,230.35 L633.46,230.34 L633.76,230.17 L634.06,230.02 L634.36,230.49 L634.66,230.11 L634.96,229.63 L635.26,230.24 L635.56,230.29 L635.86,229.90 L636.16,230.38 L636.46,230.40 L636.76,231.34 L637.06,229.49 L637.36,231.17 L637.66,228.98 L637.96,228.97 L638.26,230.28 L638.56,229.99 L638.86,230.19 L639.16,230.18 L639.46,229.67 L639.76,229.68 L640.06,230.06 L640.36,230.59 L640.66,230.50 L640.96,230.54 L641.26,230.32 L641.56,231.51 L641.86,229.37 L642.16,230.48 L642.46,230.88 L642.76,231.05 L643.06,230.93 L643.36,230.85 L643.66,230.46 L643.96,229.74 L644.26,228.61 L644.56,229.84 L644.86,230.19 L645.16,231.19 L645.46,229.94 L645.76,229.94 L646.06,230.25 L646.36,229.15 L646.66,229.98 L646.96,230.27 L647.26,229.90 L647.56,230.03 L647.86,229.35 L648.16,229.89 L648.46,230.26 L648.76,230.95 L649.06,229.88 L649.36,229.93 L649.66,230.19 L649.96,230.90 L650.26,230.10 L650.56,230.90 L650.86,230.31 L651.16,230.16 L651.46,229.70 L651.76,230.25 L652.06,230.88 L652.36,230.03 L652.66,230.13 L652.96,228.99 L653.26,230.78 L653.56,230.39 L653.86,230.98 L654.16,230.65 L654.46,230.15 L654.76,230.26 L655.06,230.17 L655.36,231.92 L655.66,230.95 L655.96,230.91 L656.26,231.15 L656.56,231.15 L656.86,230.92 L657.16,231.03 L657.46,232.07 L657.76,229.38 L658.06,230.35 L658.36,229.85 L658.66,230.15 L658.96,228.85 L659.26,229.76 L659.56,230.84 L659.86,229.83 L660.16,230.93 L660.46,230.19 L660.76,230.64 L661.06,229.69 L661.36,230.13 L661.66,229.51 L661.96,230.51 L662.26,229.03 L662.56,230.43 L662.86,229.91 L663.16,229.94 L663.46,231.33 L663.76,230.04 L664.06,229.87 L664.36,230.35 L664.66,230.94 L664.96,229.93 L665.26,231.28 L665.56,230.24 L665.86,230.06 L666.16,229.87 L666.46,230.18 L666.76,230.65 L667.06,231.21 L667.36,230.58 L667.66,230.18 L667.96,230.21 L668.26,228.92 L668.56,230.64 L668.86,230.55 L669.16,229.83 L669.46,230.16 L669.76,228.82 L670.06,230.57 L670.36,229.33 L670.66,229.01 L670.96,230.59 L671.26,228.56 L671.56,229.36 L671.86,228.51 L672.16,228.74 L672.46,229.11 L672.76,228.96 L673.06,230.12 L673.36,230.10 L673.66,229.10 L673.96,230.84 L674.26,229.33 L674.56,229.00 L674.86,229.14 L675.16,227.97 L675.46,229.77 L675.76,228.17 L676.06,227.88 L676.36,229.33 L676.66,227.81 L676.96,228.25 L677.26,227.61 L677.56,228.34 L677.86,228.39 L678.16,226.83 L678.46,228.36 L678.76,227.39 L679.06,228.95 L679.36,229.53 L679.66,228.53 L679.96,228.43 L680.26,228.61 L680.56,228.10 L680.86,226.34 L681.16,226.34 L681.46,226.64 L681.76,225.97 L682.06,226.49 L682.36,227.12 L682.66,226.14 L682.96,226.76 L683.26,226.99 L683.56,225.92 L683.86,226.18 L684.16,225.81 L684.46,225.61 L684.76,225.40 L685.06,224.93 L685.36,226.24 L685.66,226.46 L685.96,225.23 L686.26,225.23 L686.56,223.92 L686.86,224.81 L687.16,225.00 L687.46,224.59 L687.76,224.61 L688.06,223.50 L688.36,223.18 L688.66,224.01 L688.96,225.07 L689.26,223.62 L689.56,222.76 L689.86,223.15 L690.16,223.35 L690.46,224.38 L690.76,224.12 L691.06,222.67 L691.36,222.40 L691.66,222.67 L691.96,222.54 L692.26,222.12 L692.56,223.69 L692.86,222.49 L693.16,223.03 L693.46,222.73 L693.76,223.24 L694.06,222.51 L694.36,222.35 L694.66,222.73 L694.96,221.85 L695.26,222.90 L695.56,221.02 L695.86,221.60 L696.16,220.75 L696.46,220.53 L696.76,221.75 L697.06,222.82 L697.36,221.48 L697.66,221.89 L697.96,219.45 L698.26,220.85 L698.56,219.60 L698.86,220.50 L699.16,220.70 L699.46,219.45 L699.76,220.68 L700.06,219.25 L700.36,219.92 L700.66,219.24 L700.96,219.65 L701.26,219.63 L701.56,217.80 L701.86,219.04 L702.16,218.95 L702.46,220.42 L702.76,216.74 L703.06,218.47 L703.36,218.82 L703.66,219.50 L703.96,218.81 L704.26,217.80 L704.56,218.93 L704.86,217.60 L705.16,217.29 L705.46,217.16 L705.76,217.10 L706.06,218.76 L706.36,215.88 L706.40,215.83" fill="none" stroke="#c8c8c8" stroke-width="2.3" stroke-linejoin="round"/>
<path d="M519.50,230.60 L520.50,230.44 L521.50,230.53 L522.50,230.45 L523.50,230.56 L524.50,230.71 L525.50,230.44 L526.50,230.64 L527.50,230.53 L528.50,230.91 L529.50,230.99 L530.50,230.84 L531.50,230.84 L532.50,230.84 L533.50,230.86 L534.50,231.06 L535.50,231.09 L536.50,231.30 L537.50,231.31 L538.50,231.17 L539.50,230.82 L540.50,230.51 L541.50,230.56 L542.50,230.68 L543.50,230.92 L544.50,230.77 L545.50,230.75 L546.50,230.59 L547.50,230.51 L548.50,230.12 L549.50,230.32 L550.50,230.24 L551.50,230.27 L552.50,230.40 L553.50,230.49 L554.50,230.27 L555.50,230.58 L556.50,230.71 L557.50,230.78 L558.50,230.63 L559.50,230.34 L560.50,230.09 L561.50,230.13 L562.50,230.22 L563.50,230.15 L564.50,230.53 L565.50,230.59 L566.50,230.76 L567.50,230.89 L568.50,230.65 L569.50,230.81 L570.50,230.85 L571.50,230.58 L572.50,230.71 L573.50,230.87 L574.50,230.99 L575.50,231.11 L576.50,230.78 L577.50,230.70 L578.50,230.58 L579.50,230.58 L580.50,230.59 L581.50,230.78 L582.50,230.87 L583.50,230.68 L584.50,230.81 L585.50,231.05 L586.50,231.02 L587.50,230.68 L588.50,230.54 L589.50,230.51 L590.50,230.22 L591.49,230.24 L592.47,230.05 L593.43,230.26 L594.37,230.41 L595.30,230.41 L596.21,230.20 L597.10,230.29 L597.99,230.21 L598.85,230.13 L599.71,230.38 L600.54,230.26 L601.37,230.01 L602.18,230.15 L602.98,230.63 L603.76,230.80 L604.53,231.01 L605.29,231.29 L606.03,231.29 L606.77,231.45 L607.49,231.76 L608.19,231.64 L608.89,231.22 L609.58,231.22 L610.25,231.01 L610.91,230.24 L611.56,230.19 L612.20,230.59 L612.83,231.20 L613.45,230.49 L614.06,230.27 L614.66,230.42 L615.25,231.12 L615.83,231.18 L616.40,230.98 L616.96,231.18 L617.51,230.69 L618.05,230.84 L618.58,229.85 L619.11,230.42 L619.62,231.16 L620.13,230.73 L620.63,230.81 L621.12,231.08 L621.60,231.88 L622.07,230.93 L622.54,231.37 L622.99,230.35 L623.44,230.58 L623.89,230.86 L624.32,230.53 L624.75,230.26 L625.17,229.12 L625.58,230.31 L625.99,230.42 L626.39,230.40 L626.79,229.49 L627.17,229.52 L627.55,229.75 L627.93,229.32 L628.29,230.49 L628.66,229.56 L629.01,229.90 L629.36,229.36 L629.71,228.83 L630.04,230.33 L630.38,229.90 L630.70,229.53 L631.03,230.14 L631.34,228.72 L631.65,230.34 L631.96,229.12 L632.26,228.76 L632.56,228.93 L632.86,229.50 L633.16,229.26 L633.46,229.46 L633.76,229.53 L634.06,229.22 L634.36,229.87 L634.66,228.49 L634.96,229.80 L635.26,229.53 L635.56,229.45 L635.86,228.85 L636.16,228.31 L636.46,228.01 L636.76,227.59 L637.06,228.21 L637.36,228.68 L637.66,229.11 L637.96,228.26 L638.26,228.12 L638.56,228.03 L638.86,228.15 L639.16,227.94 L639.46,228.57 L639.76,228.88 L640.06,226.98 L640.36,227.33 L640.66,227.45 L640.96,227.45 L641.26,227.70 L641.56,228.15 L641.86,226.52 L642.16,227.19 L642.46,226.94 L642.76,226.80 L643.06,226.73 L643.36,227.06 L643.66,226.44 L643.96,225.71 L644.26,226.69 L644.56,226.71 L644.86,225.54 L645.16,226.79 L645.46,226.31 L645.76,226.04 L646.06,225.77 L646.36,226.62 L646.66,224.82 L646.96,225.62 L647.26,224.75 L647.56,225.84 L647.86,226.34 L648.16,224.46 L648.46,226.01 L648.76,225.58 L649.06,224.76 L649.36,224.65 L649.66,224.62 L649.96,224.28 L650.26,224.28 L650.56,225.20 L650.86,225.08 L651.16,223.84 L651.46,224.80 L651.76,225.33 L652.06,224.93 L652.36,224.14 L652.66,222.96 L652.96,223.49 L653.26,223.89 L653.56,223.48 L653.86,222.78 L654.16,223.88 L654.46,223.89 L654.76,222.16 L655.06,222.48 L655.36,222.16 L655.66,222.17 L655.96,222.57 L656.26,220.48 L656.56,222.48 L656.86,222.06 L657.16,220.60 L657.46,222.64 L657.76,222.54 L658.06,222.08 L658.36,222.14 L658.66,221.67 L658.96,222.44 L659.26,221.26 L659.56,221.74 L659.86,222.47 L660.16,221.29 L660.46,221.01 L660.76,221.77 L661.06,222.12 L661.36,222.13 L661.66,221.30 L661.96,222.10 L662.26,222.01 L662.56,220.85 L662.86,221.44 L663.16,219.73 L663.46,220.48 L663.76,220.04 L664.06,220.81 L664.36,220.06 L664.66,218.57 L664.96,220.37 L665.26,219.42 L665.56,220.87 L665.86,221.07 L666.16,220.12 L666.46,219.63 L666.76,219.69 L667.06,218.43 L667.36,219.81 L667.66,220.25 L667.96,220.02 L668.26,218.74 L668.56,220.41 L668.86,219.86 L669.16,218.75 L669.46,219.53 L669.76,218.46 L670.06,218.49 L670.36,218.75 L670.66,219.94 L670.96,220.31 L671.26,217.61 L671.56,218.17 L671.86,218.17 L672.16,218.72 L672.46,218.78 L672.76,217.96 L673.06,218.28 L673.36,217.29 L673.66,217.10 L673.96,218.04 L674.26,217.86 L674.56,217.08 L674.86,217.86 L675.16,217.38 L675.46,217.15 L675.76,217.52 L676.06,217.96 L676.36,216.86 L676.66,218.04 L676.96,216.88 L677.26,217.51 L677.56,218.06 L677.86,217.48 L678.16,217.13 L678.46,217.46 L678.76,218.40 L679.06,218.40 L679.36,217.96 L679.66,217.32 L679.96,216.67 L680.26,216.88 L680.56,216.95 L680.86,217.45 L681.16,217.30 L681.46,216.81 L681.76,217.92 L682.06,217.07 L682.36,217.56 L682.66,217.24 L682.96,218.23 L683.26,217.61 L683.56,217.40 L683.86,217.77 L684.16,217.32 L684.46,215.48 L684.76,216.71 L685.06,215.68 L685.36,215.73 L685.66,216.18 L685.96,215.48 L686.26,215.59 L686.56,216.29 L686.86,216.31 L687.16,216.47 L687.46,216.01 L687.76,215.79 L688.06,215.76 L688.36,215.77 L688.66,215.24 L688.96,215.77 L689.26,214.88 L689.56,214.90 L689.86,214.66 L690.16,215.94 L690.46,214.97 L690.76,215.59 L691.06,215.75 L691.36,214.98 L691.66,215.73 L691.96,215.58 L692.26,215.72 L692.56,214.32 L692.86,216.44 L693.16,216.18 L693.46,216.39 L693.76,216.93 L694.06,214.64 L694.36,216.46 L694.66,214.57 L694.96,215.52 L695.26,215.79 L695.56,214.20 L695.86,215.24 L696.16,214.67 L696.46,215.63 L696.76,214.49 L697.06,216.61 L697.36,215.88 L697.66,215.48 L697.96,214.77 L698.26,216.37 L698.56,214.84 L698.86,215.47 L699.16,213.99 L699.46,215.00 L699.76,213.20 L700.06,214.72 L700.36,213.68 L700.66,213.84 L700.96,215.34 L701.26,215.01 L701.56,214.07 L701.86,214.08 L702.16,215.62 L702.46,213.43 L702.76,214.55 L703.06,214.12 L703.36,214.54 L703.66,214.65 L703.96,214.61 L704.26,213.85 L704.56,214.92 L704.86,214.70 L705.16,214.04 L705.46,215.77 L705.76,214.01 L706.06,214.61 L706.36,216.08 L706.40,214.56" fill="none" stroke="#808080" stroke-width="2.3" stroke-linejoin="round"/>
<path d="M522.90,230.60 L523.90,230.71 L524.90,230.88 L525.90,231.01 L526.90,231.27 L527.90,231.10 L528.90,231.12 L529.90,230.98 L530.90,230.67 L531.90,230.54 L532.90,230.57 L533.90,230.41 L534.90,230.40 L535.90,230.63 L536.90,230.72 L537.90,230.80 L538.90,230.83 L539.90,230.76 L540.90,230.40 L541.90,230.60 L542.90,230.33 L543.90,230.40 L544.90,230.41 L545.90,230.45 L546.90,230.51 L547.90,230.46 L548.90,230.63 L549.90,230.39 L550.90,230.55 L551.90,230.25 L552.90,230.50 L553.90,230.42 L554.90,230.50 L555.90,230.76 L556.90,230.35 L557.90,230.31 L558.90,230.44 L559.90,230.61 L560.90,230.83 L561.90,230.88 L562.90,230.91 L563.90,230.86 L564.90,230.85 L565.90,230.80 L566.90,230.92 L567.90,230.88 L568.90,230.93 L569.90,231.14 L570.90,231.23 L571.90,231.05 L572.90,230.94 L573.90,230.98 L574.90,230.78 L575.90,230.40 L576.90,230.22 L577.90,230.34 L578.90,230.30 L579.90,230.25 L580.90,230.39 L581.90,230.20 L582.90,230.61 L583.90,230.57 L584.90,230.47 L585.90,230.80 L586.90,230.53 L587.90,230.41 L588.90,230.37 L589.90,230.18 L590.90,230.13 L591.88,230.23 L592.85,230.24 L593.81,230.20 L594.74,230.34 L595.66,230.60 L596.57,230.76 L597.46,230.25 L598.34,230.41 L599.20,230.43 L600.04,230.38 L600.88,230.07 L601.69,229.86 L602.50,229.78 L603.29,229.49 L604.07,229.54 L604.84,229.78 L605.59,229.60 L606.33,229.39 L607.06,229.54 L607.77,229.34 L608.48,230.02 L609.17,229.40 L609.85,229.77 L610.52,229.19 L611.18,229.41 L611.82,229.06 L612.46,228.39 L613.08,228.59 L613.70,228.43 L614.30,227.53 L614.90,227.41 L615.48,226.55 L616.06,226.93 L616.63,226.80 L617.18,226.71 L617.73,226.99 L618.27,226.62 L618.80,226.47 L619.32,226.90 L619.83,227.07 L620.33,226.66 L620.82,227.22 L621.31,226.24 L621.79,226.25 L622.26,226.67 L622.72,227.42 L623.18,226.21 L623.62,226.23 L624.06,226.08 L624.49,225.92 L624.92,225.35 L625.34,226.10 L625.75,226.32 L626.15,225.86 L626.55,225.84 L626.94,225.45 L627.33,225.65 L627.70,225.14 L628.08,224.42 L628.44,224.68 L628.80,224.22 L629.15,224.62 L629.50,224.63 L629.84,225.72 L630.18,224.87 L630.51,224.96 L630.83,223.83 L631.15,224.24 L631.47,224.40 L631.78,224.02 L632.08,223.95 L632.38,223.76 L632.68,224.16 L632.98,224.03 L633.28,223.82 L633.58,223.26 L633.88,223.61 L634.18,224.00 L634.48,223.74 L634.78,224.29 L635.08,224.47 L635.38,224.37 L635.68,223.67 L635.98,223.66 L636.28,223.91 L636.58,222.70 L636.88,223.96 L637.18,223.70 L637.48,222.61 L637.78,222.88 L638.08,222.63 L638.38,223.27 L638.68,222.96 L638.98,222.58 L639.28,221.58 L639.58,223.64 L639.88,222.98 L640.18,222.36 L640.48,221.64 L640.78,222.04 L641.08,221.54 L641.38,222.62 L641.68,222.03 L641.98,220.82 L642.28,221.98 L642.58,221.02 L642.88,221.55 L643.18,220.86 L643.48,220.12 L643.78,220.20 L644.08,221.11 L644.38,221.02 L644.68,221.24 L644.98,221.24 L645.28,220.35 L645.58,220.15 L645.88,220.07 L646.18,219.74 L646.48,220.68 L646.78,219.38 L647.08,219.72 L647.38,219.65 L647.68,219.81 L647.98,220.53 L648.28,220.06 L648.58,220.37 L648.88,219.78 L649.18,219.64 L649.48,220.09 L649.78,219.06 L650.08,219.52 L650.38,220.14 L650.68,220.30 L650.98,220.16 L651.28,220.02 L651.58,219.41 L651.88,219.95 L652.18,219.36 L652.48,220.23 L652.78,219.86 L653.08,218.28 L653.38,219.39 L653.68,219.35 L653.98,218.56 L654.28,219.03 L654.58,218.92 L654.88,218.99 L655.18,217.93 L655.48,218.41 L655.78,218.79 L656.08,216.99 L656.38,217.87 L656.68,216.19 L656.98,217.32 L657.28,217.61 L657.58,217.20 L657.88,215.62 L658.18,217.59 L658.48,216.70 L658.78,216.80 L659.08,215.49 L659.38,215.65 L659.68,215.87 L659.98,215.95 L660.28,216.26 L660.58,215.07 L660.88,215.95 L661.18,216.43 L661.48,216.38 L661.78,215.56 L662.08,215.64 L662.38,216.70 L662.68,215.85 L662.98,215.77 L663.28,215.86 L663.58,215.83 L663.88,215.99 L664.18,215.70 L664.48,215.99 L664.78,215.79 L665.08,215.55 L665.38,215.21 L665.68,215.60 L665.98,216.17 L666.28,216.00 L666.58,215.08 L666.88,215.63 L667.18,216.63 L667.48,214.67 L667.78,215.64 L668.08,214.66 L668.38,215.83 L668.68,215.82 L668.98,215.94 L669.28,215.23 L669.58,214.93 L669.88,214.01 L670.18,215.15 L670.48,215.21 L670.78,214.72 L671.08,214.96 L671.38,216.67 L671.68,215.34 L671.98,215.04 L672.28,214.43 L672.58,215.81 L672.88,215.24 L673.18,216.56 L673.48,215.21 L673.78,214.87 L674.08,215.28 L674.38,214.75 L674.68,215.43 L674.98,216.27 L675.28,216.39 L675.58,216.04 L675.88,215.61 L676.18,217.39 L676.48,217.70 L676.78,216.79 L677.08,215.10 L677.38,216.16 L677.68,215.75 L677.98,216.12 L678.28,216.42 L678.58,216.62 L678.88,215.37 L679.18,216.16 L679.48,215.27 L679.78,215.90 L680.08,217.13 L680.38,215.62 L680.68,215.54 L680.98,216.55 L681.28,215.67 L681.58,215.04 L681.88,215.54 L682.18,214.79 L682.48,215.64 L682.78,215.12 L683.08,214.71 L683.38,216.99 L683.68,215.06 L683.98,216.47 L684.28,215.21 L684.58,216.13 L684.88,216.40 L685.18,217.10 L685.48,215.43 L685.78,215.22 L686.08,215.45 L686.38,214.97 L686.68,214.10 L686.98,216.09 L687.28,215.47 L687.58,215.26 L687.88,214.94 L688.18,215.86 L688.48,214.04 L688.78,215.18 L689.08,214.36 L689.38,215.02 L689.68,213.76 L689.98,215.69 L690.28,213.91 L690.58,214.00 L690.88,213.35 L691.18,214.74 L691.48,213.81 L691.78,212.76 L692.08,214.28 L692.38,214.26 L692.68,213.31 L692.98,214.50 L693.28,213.89 L693.58,214.11 L693.88,214.40 L694.18,213.41 L694.48,214.56 L694.78,213.20 L695.08,212.63 L695.38,213.21 L695.68,213.82 L695.98,213.12 L696.28,212.38 L696.58,214.13 L696.88,214.51 L697.18,212.59 L697.48,214.29 L697.78,213.26 L698.08,213.34 L698.38,214.31 L698.68,213.93 L698.98,211.81 L699.28,213.73 L699.58,212.36 L699.88,213.28 L700.18,212.91 L700.48,213.18 L700.78,214.19 L701.08,213.45 L701.38,213.33 L701.68,213.11 L701.98,213.83 L702.28,214.25 L702.58,215.22 L702.88,213.06 L703.18,213.02 L703.48,212.62 L703.78,212.31 L704.08,213.04 L704.38,211.98 L704.68,211.58 L704.98,213.11 L705.28,213.62 L705.58,212.60 L705.88,213.14 L706.18,212.76 L706.40,212.03" fill="none" stroke="#000" stroke-width="2.3" stroke-linejoin="round"/>
<path d="M470.75,23.00 L471.30,23.00 L471.85,23.00 L472.40,23.00 L472.95,23.00 L473.50,23.00 L474.05,23.00 L474.60,23.00 L475.15,23.00 L475.71,23.00 L476.26,23.00 L476.81,23.00 L477.36,23.00 L477.91,23.00 L478.46,23.00 L479.01,23.00 L479.56,23.00 L480.11,23.00 L480.66,23.00 L481.21,23.00 L481.76,23.00 L482.31,23.00 L482.86,23.00 L483.41,23.00 L483.96,23.00 L484.52,23.00 L485.07,23.00 L485.62,23.00 L486.17,23.00 L486.72,23.00 L487.27,23.00 L487.82,23.00 L488.37,23.00 L488.92,23.00 L489.47,23.00 L490.02,23.00 L490.57,23.00 L491.12,23.00 L491.67,23.00 L492.22,23.00 L492.77,23.00 L493.32,23.00 L493.88,23.01 L494.43,23.01 L494.98,23.01 L495.53,23.01 L496.08,23.01 L496.63,23.01 L497.18,23.01 L497.73,23.01 L498.28,23.01 L498.83,23.01 L499.38,23.01 L499.93,23.01 L500.48,23.01 L501.03,23.01 L501.58,23.01 L502.13,23.01 L502.68,23.01 L503.24,23.01 L503.79,23.01 L504.34,23.01 L504.89,23.01 L505.44,23.01 L505.99,23.01 L506.54,23.01 L507.09,23.01 L507.64,23.01 L508.19,23.02 L508.74,23.02 L509.29,23.02 L509.84,23.02 L510.39,23.02 L510.94,23.02 L511.49,23.02 L512.05,23.02 L512.60,23.02 L513.15,23.02 L513.70,23.02 L514.25,23.02 L514.80,23.02 L515.35,23.02 L515.90,23.02 L516.45,23.03 L517.00,23.03 L517.55,23.03 L518.10,23.03 L518.65,23.03 L519.20,23.03 L519.75,23.03 L520.30,23.03 L520.85,23.03 L521.41,23.03 L521.96,23.03 L522.51,23.03 L523.06,23.03 L523.61,23.04 L524.16,23.04 L524.71,23.04 L525.26,23.04 L525.81,23.04 L526.36,23.04 L526.91,23.04 L527.46,23.04 L528.01,23.04 L528.56,23.04 L529.11,23.05 L529.66,23.05 L530.21,23.05 L530.77,23.05 L531.32,23.05 L531.87,23.05 L532.42,23.05 L532.97,23.05 L533.52,23.06 L534.07,23.06 L534.62,23.06 L535.17,23.06 L535.72,23.06 L536.27,23.06 L536.82,23.06 L537.37,23.06 L537.92,23.07 L538.47,23.07 L539.02,23.07 L539.58,23.07 L540.13,23.07 L540.68,23.07 L541.23,23.07 L541.78,23.08 L542.33,23.08 L542.88,23.08 L543.43,23.08 L543.98,23.08 L544.53,23.08 L545.08,23.08 L545.63,23.09 L546.18,23.09 L546.73,23.09 L547.28,23.09 L547.83,23.09 L548.38,23.09 L548.94,23.10 L549.49,23.10 L550.04,23.10 L550.59,23.11 L551.14,23.12 L551.69,23.13 L552.24,23.15 L552.79,23.18 L553.34,23.21 L553.89,23.24 L554.44,23.28 L554.99,23.32 L555.54,23.36 L556.09,23.41 L556.64,23.46 L557.19,23.51 L557.74,23.56 L558.30,23.62 L558.85,23.67 L559.40,23.73 L559.95,23.79 L560.50,23.84 L561.05,23.90 L561.60,23.96 L562.15,24.02 L562.70,24.07 L563.25,24.13 L563.80,24.19 L564.35,24.26 L564.90,24.32 L565.45,24.39 L566.00,24.47 L566.55,24.54 L567.11,24.62 L567.66,24.70 L568.21,24.79 L568.76,24.88 L569.31,24.97 L569.86,25.07 L570.41,25.17 L570.96,25.28 L571.51,25.39 L572.06,25.51 L572.61,25.64 L573.16,25.77 L573.71,25.91 L574.26,26.07 L574.81,26.26 L575.36,26.47 L575.91,26.70 L576.47,26.95 L577.02,27.21 L577.57,27.50 L578.12,27.79 L578.67,28.10 L579.22,28.42 L579.77,28.76 L580.32,29.10 L580.87,29.45 L581.42,29.81 L581.97,30.17 L582.52,30.54 L583.07,30.90 L583.62,31.27 L584.17,31.64 L584.72,32.01 L585.28,32.38 L585.83,32.74 L586.38,33.09 L586.93,33.44 L587.48,33.79 L588.03,34.15 L588.58,34.50 L589.13,34.86 L589.68,35.23 L590.23,35.60 L590.78,35.98 L591.33,36.37 L591.88,36.77 L592.43,37.17 L592.98,37.58 L593.53,38.01 L594.08,38.45 L594.64,38.90 L595.19,39.36 L595.74,39.84 L596.29,40.34 L596.84,40.87 L597.39,41.41 L597.94,41.97 L598.49,42.55 L599.04,43.14 L599.59,43.74 L600.14,44.36 L600.69,44.98 L601.24,45.62 L601.79,46.27 L602.34,46.94 L602.89,47.63 L603.44,48.34 L604.00,49.08 L604.55,49.84 L605.10,50.63 L605.65,51.46 L606.20,52.34 L606.75,53.28 L607.30,54.27 L607.85,55.32 L608.40,56.41 L608.95,57.54 L609.50,58.69 L610.05,59.86 L610.60,61.04 L611.15,62.22 L611.70,63.40 L612.25,64.56 L612.81,65.70 L613.36,66.81 L613.91,67.90 L614.46,68.98 L615.01,70.05 L615.56,71.12 L616.11,72.18 L616.66,73.25 L617.21,74.33 L617.76,75.41 L618.31,76.51 L618.86,77.63 L619.41,78.76 L619.96,79.92 L620.51,81.10 L621.06,82.29 L621.61,83.49 L622.17,84.71 L622.72,85.94 L623.27,87.20 L623.82,88.48 L624.37,89.78 L624.92,91.11 L625.47,92.47 L626.02,93.86 L626.57,95.30 L627.12,96.78 L627.67,98.30 L628.22,99.85 L628.77,101.43 L629.32,103.02 L629.87,104.63 L630.42,106.25 L630.97,107.87 L631.53,109.49 L632.08,111.12 L632.63,112.80 L633.18,114.54 L633.73,116.31 L634.28,118.09 L634.83,119.87 L635.38,121.63 L635.93,123.36 L636.48,125.03 L637.03,126.64 L637.58,128.16 L638.13,129.59 L638.68,130.91 L639.23,132.18 L639.78,133.40 L640.34,134.57 L640.89,135.70 L641.44,136.80 L641.99,137.88 L642.54,138.93 L643.09,139.96 L643.64,140.98 L644.19,142.00 L644.74,143.01 L645.29,144.03 L645.84,145.06 L646.39,146.11 L646.94,147.17 L647.49,148.27 L648.04,149.39 L648.59,150.51 L649.14,151.62 L649.70,152.71 L650.25,153.75 L650.80,154.74 L651.35,155.66 L651.90,156.49 L652.45,157.30 L653.00,158.09 L653.55,158.86 L654.10,159.60 L654.65,160.31 L655.20,160.99 L655.75,161.64 L656.30,162.24 L656.85,162.80 L657.40,163.31 L657.95,163.76 L658.51,164.18 L659.06,164.56 L659.61,164.92 L660.16,165.25 L660.71,165.57 L661.26,165.87 L661.81,166.15 L662.36,166.43 L662.91,166.70 L663.46,166.97 L664.01,167.23 L664.56,167.50 L665.11,167.77 L665.66,168.06 L666.21,168.35 L666.76,168.66 L667.31,168.97 L667.87,169.29 L668.42,169.61 L668.97,169.93 L669.52,170.24 L670.07,170.56 L670.62,170.87 L671.17,171.17 L671.72,171.46 L672.27,171.74 L672.82,172.01 L673.37,172.27 L673.92,172.52 L674.47,172.77 L675.02,173.01 L675.57,173.24 L676.12,173.47 L676.67,173.69 L677.23,173.91 L677.78,174.13 L678.33,174.34 L678.88,174.56 L679.43,174.77 L679.98,174.97 L680.53,175.18 L681.08,175.39 L681.63,175.60 L682.18,175.80 L682.73,176.01 L683.28,176.22 L683.83,176.44 L684.38,176.65 L684.93,176.87 L685.48,177.10 L686.04,177.32 L686.59,177.56 L687.14,177.80 L687.69,178.04 L688.24,178.30 L688.79,178.57 L689.34,178.85 L689.89,179.13 L690.44,179.42 L690.99,179.71 L691.54,180.00 L692.09,180.27 L692.64,180.54 L693.19,180.79 L693.74,181.02 L694.29,181.23 L694.84,181.44 L695.40,181.65 L695.95,181.86 L696.50,182.06 L697.05,182.27 L697.60,182.48 L698.15,182.68 L698.70,182.87 L699.25,183.07 L699.80,183.25 L700.35,183.43 L700.90,183.59 L701.45,183.75 L702.00,183.90 L702.55,184.03 L703.10,184.15 L703.65,184.26 L704.20,184.35 L704.76,184.42 L705.31,184.47 L705.86,184.51 L706.41,184.54 L706.96,184.57 L707.51,184.60 L708.06,184.62 L708.61,184.65 L709.16,184.67 L709.71,184.69 L710.26,184.71 L710.81,184.73 L711.36,184.75 L711.91,184.76 L712.46,184.77 L713.01,184.78 L713.57,184.79 L714.12,184.80 L714.67,184.80 L715.22,184.80 L715.77,184.80 L716.32,184.80 L716.87,184.80 L717.42,184.80 L717.97,184.80 L718.52,184.80 L719.07,184.80 L719.62,184.80 L720.17,184.80 L720.72,184.80 L721.27,184.80 L721.82,184.80 L722.37,184.80 L722.93,184.80 L723.48,184.80 L724.03,184.80 L724.58,184.80 L725.13,184.80 L725.68,184.80 L726.23,184.80 L726.78,184.80 L727.33,184.80 L727.88,184.80 L728.43,184.80 L728.98,184.80 L729.53,184.80 L730.08,184.80 L730.63,184.80 L731.18,184.80 L731.73,184.80 L732.29,184.80 L732.84,184.80 L733.39,184.80 L733.94,184.80 L734.49,184.80 L735.04,184.80 L735.59,184.80 L736.14,184.80 L736.69,184.80 L737.24,184.80 L737.79,184.80 L738.34,184.80 L738.89,184.80 L739.44,184.80 L739.99,184.80 L740.54,184.80 L741.10,184.80 L741.65,184.80 L742.20,184.80 L742.75,184.80 L743.30,184.80 L743.85,184.80 L744.40,184.80 L744.95,184.80 L745.50,184.80" fill="none" stroke="#0000ff" stroke-width="2.1" stroke-dasharray="8 8"/>
<path d="M470.75,23.00 L471.30,23.00 L471.85,23.00 L472.40,23.00 L472.95,23.00 L473.50,23.00 L474.05,23.00 L474.60,23.00 L475.15,23.00 L475.71,23.00 L476.26,23.00 L476.81,23.00 L477.36,23.00 L477.91,23.00 L478.46,23.00 L479.01,23.00 L479.56,23.00 L480.11,23.00 L480.66,23.00 L481.21,23.00 L481.76,23.00 L482.31,23.00 L482.86,23.01 L483.41,23.01 L483.96,23.01 L484.52,23.01 L485.07,23.01 L485.62,23.01 L486.17,23.01 L486.72,23.01 L487.27,23.01 L487.82,23.01 L488.37,23.01 L488.92,23.01 L489.47,23.01 L490.02,23.01 L490.57,23.02 L491.12,23.02 L491.67,23.02 L492.22,23.02 L492.77,23.02 L493.32,23.02 L493.88,23.02 L494.43,23.02 L494.98,23.02 L495.53,23.03 L496.08,23.03 L496.63,23.03 L497.18,23.03 L497.73,23.03 L498.28,23.03 L498.83,23.03 L499.38,23.04 L499.93,23.04 L500.48,23.04 L501.03,23.04 L501.58,23.04 L502.13,23.04 L502.68,23.05 L503.24,23.05 L503.79,23.05 L504.34,23.05 L504.89,23.05 L505.44,23.06 L505.99,23.06 L506.54,23.06 L507.09,23.06 L507.64,23.07 L508.19,23.07 L508.74,23.07 L509.29,23.07 L509.84,23.07 L510.39,23.08 L510.94,23.08 L511.49,23.08 L512.05,23.08 L512.60,23.09 L513.15,23.09 L513.70,23.09 L514.25,23.10 L514.80,23.10 L515.35,23.10 L515.90,23.11 L516.45,23.13 L517.00,23.15 L517.55,23.18 L518.10,23.22 L518.65,23.26 L519.20,23.31 L519.75,23.36 L520.30,23.41 L520.85,23.47 L521.41,23.53 L521.96,23.60 L522.51,23.67 L523.06,23.75 L523.61,23.82 L524.16,23.90 L524.71,23.98 L525.26,24.07 L525.81,24.15 L526.36,24.24 L526.91,24.32 L527.46,24.41 L528.01,24.50 L528.56,24.60 L529.11,24.70 L529.66,24.82 L530.21,24.95 L530.77,25.09 L531.32,25.24 L531.87,25.39 L532.42,25.56 L532.97,25.73 L533.52,25.90 L534.07,26.09 L534.62,26.27 L535.17,26.47 L535.72,26.66 L536.27,26.86 L536.82,27.06 L537.37,27.27 L537.92,27.47 L538.47,27.68 L539.02,27.89 L539.58,28.11 L540.13,28.33 L540.68,28.56 L541.23,28.80 L541.78,29.04 L542.33,29.30 L542.88,29.56 L543.43,29.84 L543.98,30.12 L544.53,30.41 L545.08,30.72 L545.63,31.04 L546.18,31.37 L546.73,31.72 L547.28,32.09 L547.83,32.49 L548.38,32.93 L548.94,33.38 L549.49,33.87 L550.04,34.37 L550.59,34.90 L551.14,35.45 L551.69,36.01 L552.24,36.58 L552.79,37.17 L553.34,37.77 L553.89,38.38 L554.44,39.00 L554.99,39.61 L555.54,40.23 L556.09,40.85 L556.64,41.47 L557.19,42.09 L557.74,42.70 L558.30,43.30 L558.85,43.89 L559.40,44.47 L559.95,45.05 L560.50,45.63 L561.05,46.20 L561.60,46.78 L562.15,47.37 L562.70,47.96 L563.25,48.56 L563.80,49.18 L564.35,49.81 L564.90,50.46 L565.45,51.13 L566.00,51.82 L566.55,52.54 L567.11,53.28 L567.66,54.05 L568.21,54.86 L568.76,55.72 L569.31,56.65 L569.86,57.66 L570.41,58.72 L570.96,59.83 L571.51,60.98 L572.06,62.15 L572.61,63.33 L573.16,64.51 L573.71,65.68 L574.26,66.83 L574.81,67.98 L575.36,69.14 L575.91,70.30 L576.47,71.48 L577.02,72.67 L577.57,73.88 L578.12,75.09 L578.67,76.31 L579.22,77.54 L579.77,78.78 L580.32,80.02 L580.87,81.27 L581.42,82.54 L581.97,83.82 L582.52,85.11 L583.07,86.43 L583.62,87.77 L584.17,89.13 L584.72,90.55 L585.28,92.02 L585.83,93.54 L586.38,95.08 L586.93,96.64 L587.48,98.21 L588.03,99.76 L588.58,101.28 L589.13,102.77 L589.68,104.20 L590.23,105.56 L590.78,106.85 L591.33,108.08 L591.88,109.26 L592.43,110.42 L592.98,111.55 L593.53,112.69 L594.08,113.85 L594.64,115.03 L595.19,116.26 L595.74,117.55 L596.29,118.92 L596.84,120.38 L597.39,122.02 L597.94,123.83 L598.49,125.73 L599.04,127.66 L599.59,129.56 L600.14,131.37 L600.69,133.00 L601.24,134.48 L601.79,135.89 L602.34,137.26 L602.89,138.57 L603.44,139.85 L604.00,141.08 L604.55,142.28 L605.10,143.45 L605.65,144.59 L606.20,145.70 L606.75,146.80 L607.30,147.88 L607.85,148.95 L608.40,150.01 L608.95,151.04 L609.50,152.04 L610.05,153.00 L610.60,153.92 L611.15,154.78 L611.70,155.59 L612.25,156.34 L612.81,157.06 L613.36,157.74 L613.91,158.40 L614.46,159.03 L615.01,159.63 L615.56,160.19 L616.11,160.72 L616.66,161.21 L617.21,161.67 L617.76,162.11 L618.31,162.53 L618.86,162.94 L619.41,163.32 L619.96,163.68 L620.51,164.02 L621.06,164.33 L621.61,164.62 L622.17,164.87 L622.72,165.11 L623.27,165.34 L623.82,165.55 L624.37,165.75 L624.92,165.94 L625.47,166.12 L626.02,166.30 L626.57,166.47 L627.12,166.63 L627.67,166.80 L628.22,166.96 L628.77,167.12 L629.32,167.29 L629.87,167.46 L630.42,167.63 L630.97,167.80 L631.53,167.97 L632.08,168.13 L632.63,168.29 L633.18,168.45 L633.73,168.60 L634.28,168.76 L634.83,168.91 L635.38,169.07 L635.93,169.22 L636.48,169.37 L637.03,169.53 L637.58,169.68 L638.13,169.84 L638.68,170.00 L639.23,170.16 L639.78,170.33 L640.34,170.50 L640.89,170.67 L641.44,170.85 L641.99,171.03 L642.54,171.21 L643.09,171.39 L643.64,171.58 L644.19,171.77 L644.74,171.96 L645.29,172.15 L645.84,172.35 L646.39,172.55 L646.94,172.75 L647.49,172.95 L648.04,173.15 L648.59,173.36 L649.14,173.57 L649.70,173.78 L650.25,173.99 L650.80,174.20 L651.35,174.42 L651.90,174.64 L652.45,174.86 L653.00,175.09 L653.55,175.31 L654.10,175.54 L654.65,175.78 L655.20,176.02 L655.75,176.27 L656.30,176.52 L656.85,176.78 L657.40,177.04 L657.95,177.31 L658.51,177.58 L659.06,177.85 L659.61,178.12 L660.16,178.39 L660.71,178.66 L661.26,178.93 L661.81,179.20 L662.36,179.46 L662.91,179.73 L663.46,179.98 L664.01,180.24 L664.56,180.48 L665.11,180.73 L665.66,181.00 L666.21,181.27 L666.76,181.55 L667.31,181.84 L667.87,182.12 L668.42,182.40 L668.97,182.67 L669.52,182.92 L670.07,183.16 L670.62,183.38 L671.17,183.58 L671.72,183.74 L672.27,183.88 L672.82,183.98 L673.37,184.04 L673.92,184.11 L674.47,184.17 L675.02,184.23 L675.57,184.29 L676.12,184.34 L676.67,184.39 L677.23,184.44 L677.78,184.49 L678.33,184.53 L678.88,184.57 L679.43,184.61 L679.98,184.64 L680.53,184.68 L681.08,184.70 L681.63,184.73 L682.18,184.75 L682.73,184.77 L683.28,184.78 L683.83,184.79 L684.38,184.80 L684.93,184.80 L685.48,184.80 L686.04,184.80 L686.59,184.80 L687.14,184.80 L687.69,184.80 L688.24,184.80 L688.79,184.80 L689.34,184.80 L689.89,184.80 L690.44,184.80 L690.99,184.80 L691.54,184.80 L692.09,184.80 L692.64,184.80 L693.19,184.80 L693.74,184.80 L694.29,184.80 L694.84,184.80 L695.40,184.80 L695.95,184.80 L696.50,184.80 L697.05,184.80 L697.60,184.80 L698.15,184.80 L698.70,184.80 L699.25,184.80 L699.80,184.80 L700.35,184.80 L700.90,184.80 L701.45,184.80 L702.00,184.80 L702.55,184.80 L703.10,184.80 L703.65,184.80 L704.20,184.80 L704.76,184.80 L705.31,184.80 L705.86,184.80 L706.41,184.80 L706.96,184.80 L707.51,184.80 L708.06,184.80 L708.61,184.80 L709.16,184.80 L709.71,184.80 L710.26,184.80 L710.81,184.80 L711.36,184.80 L711.91,184.80 L712.46,184.80 L713.01,184.80 L713.57,184.80 L714.12,184.80 L714.67,184.80 L715.22,184.80 L715.77,184.80 L716.32,184.80 L716.87,184.80 L717.42,184.80 L717.97,184.80 L718.52,184.80 L719.07,184.80 L719.62,184.80 L720.17,184.80 L720.72,184.80 L721.27,184.80 L721.82,184.80 L722.37,184.80 L722.93,184.80 L723.48,184.80 L724.03,184.80 L724.58,184.80 L725.13,184.80 L725.68,184.80 L726.23,184.80 L726.78,184.80 L727.33,184.80 L727.88,184.80 L728.43,184.80 L728.98,184.80 L729.53,184.80 L730.08,184.80 L730.63,184.80 L731.18,184.80 L731.73,184.80 L732.29,184.80 L732.84,184.80 L733.39,184.80 L733.94,184.80 L734.49,184.80 L735.04,184.80 L735.59,184.80 L736.14,184.80 L736.69,184.80 L737.24,184.80 L737.79,184.80 L738.34,184.80 L738.89,184.80 L739.44,184.80 L739.99,184.80 L740.54,184.80 L741.10,184.80 L741.65,184.80 L742.20,184.80 L742.75,184.80 L743.30,184.80 L743.85,184.80 L744.40,184.80 L744.95,184.80 L745.50,184.80" fill="none" stroke="#0000ff" stroke-width="2.1" stroke-dasharray="8 8"/>
<path d="M470.75,23.00 L471.30,23.00 L471.85,23.00 L472.40,23.00 L472.95,23.00 L473.50,23.00 L474.05,23.01 L474.60,23.01 L475.15,23.01 L475.71,23.01 L476.26,23.02 L476.81,23.02 L477.36,23.02 L477.91,23.03 L478.46,23.03 L479.01,23.03 L479.56,23.04 L480.11,23.05 L480.66,23.05 L481.21,23.06 L481.76,23.06 L482.31,23.07 L482.86,23.08 L483.41,23.08 L483.96,23.09 L484.52,23.10 L485.07,23.11 L485.62,23.12 L486.17,23.13 L486.72,23.14 L487.27,23.15 L487.82,23.16 L488.37,23.17 L488.92,23.18 L489.47,23.19 L490.02,23.20 L490.57,23.22 L491.12,23.26 L491.67,23.30 L492.22,23.37 L492.77,23.44 L493.32,23.52 L493.88,23.61 L494.43,23.72 L494.98,23.83 L495.53,23.94 L496.08,24.06 L496.63,24.19 L497.18,24.32 L497.73,24.45 L498.28,24.58 L498.83,24.72 L499.38,24.85 L499.93,24.98 L500.48,25.12 L501.03,25.26 L501.58,25.42 L502.13,25.58 L502.68,25.75 L503.24,25.93 L503.79,26.11 L504.34,26.30 L504.89,26.50 L505.44,26.70 L505.99,26.91 L506.54,27.12 L507.09,27.33 L507.64,27.55 L508.19,27.77 L508.74,27.99 L509.29,28.21 L509.84,28.44 L510.39,28.66 L510.94,28.88 L511.49,29.10 L512.05,29.33 L512.60,29.55 L513.15,29.78 L513.70,30.02 L514.25,30.26 L514.80,30.50 L515.35,30.76 L515.90,31.02 L516.45,31.29 L517.00,31.56 L517.55,31.85 L518.10,32.16 L518.65,32.47 L519.20,32.80 L519.75,33.14 L520.30,33.50 L520.85,33.90 L521.41,34.32 L521.96,34.78 L522.51,35.27 L523.06,35.78 L523.61,36.31 L524.16,36.86 L524.71,37.43 L525.26,38.02 L525.81,38.62 L526.36,39.22 L526.91,39.84 L527.46,40.46 L528.01,41.08 L528.56,41.70 L529.11,42.32 L529.66,42.93 L530.21,43.54 L530.77,44.13 L531.32,44.73 L531.87,45.33 L532.42,45.92 L532.97,46.53 L533.52,47.14 L534.07,47.77 L534.62,48.41 L535.17,49.07 L535.72,49.75 L536.27,50.45 L536.82,51.18 L537.37,51.94 L537.92,52.74 L538.47,53.57 L539.02,54.46 L539.58,55.42 L540.13,56.44 L540.68,57.51 L541.23,58.62 L541.78,59.76 L542.33,60.94 L542.88,62.13 L543.43,63.34 L543.98,64.55 L544.53,65.76 L545.08,66.96 L545.63,68.14 L546.18,69.31 L546.73,70.49 L547.28,71.67 L547.83,72.86 L548.38,74.07 L548.94,75.28 L549.49,76.49 L550.04,77.72 L550.59,78.95 L551.14,80.20 L551.69,81.44 L552.24,82.70 L552.79,83.97 L553.34,85.24 L553.89,86.53 L554.44,87.83 L554.99,89.15 L555.54,90.47 L556.09,91.79 L556.64,93.13 L557.19,94.48 L557.74,95.86 L558.30,97.26 L558.85,98.68 L559.40,100.11 L559.95,101.52 L560.50,102.91 L561.05,104.26 L561.60,105.57 L562.15,106.81 L562.70,108.01 L563.25,109.17 L563.80,110.30 L564.35,111.42 L564.90,112.53 L565.45,113.64 L566.00,114.77 L566.55,115.92 L567.11,117.12 L567.66,118.35 L568.21,119.62 L568.76,120.91 L569.31,122.22 L569.86,123.56 L570.41,124.94 L570.96,126.34 L571.51,127.79 L572.06,129.30 L572.61,130.92 L573.16,132.62 L573.71,134.36 L574.26,136.13 L574.81,137.88 L575.36,139.58 L575.91,141.20 L576.47,142.70 L577.02,144.08 L577.57,145.41 L578.12,146.70 L578.67,147.95 L579.22,149.15 L579.77,150.31 L580.32,151.42 L580.87,152.49 L581.42,153.50 L581.97,154.45 L582.52,155.37 L583.07,156.26 L583.62,157.12 L584.17,157.94 L584.72,158.73 L585.28,159.48 L585.83,160.18 L586.38,160.83 L586.93,161.43 L587.48,161.98 L588.03,162.51 L588.58,163.01 L589.13,163.48 L589.68,163.93 L590.23,164.35 L590.78,164.74 L591.33,165.10 L591.88,165.43 L592.43,165.74 L592.98,166.02 L593.53,166.29 L594.08,166.55 L594.64,166.80 L595.19,167.04 L595.74,167.26 L596.29,167.48 L596.84,167.69 L597.39,167.90 L597.94,168.10 L598.49,168.29 L599.04,168.49 L599.59,168.68 L600.14,168.87 L600.69,169.06 L601.24,169.25 L601.79,169.44 L602.34,169.64 L602.89,169.84 L603.44,170.04 L604.00,170.22 L604.55,170.41 L605.10,170.59 L605.65,170.77 L606.20,170.95 L606.75,171.13 L607.30,171.31 L607.85,171.50 L608.40,171.69 L608.95,171.88 L609.50,172.09 L610.05,172.30 L610.60,172.52 L611.15,172.75 L611.70,172.99 L612.25,173.23 L612.81,173.48 L613.36,173.73 L613.91,173.99 L614.46,174.25 L615.01,174.51 L615.56,174.78 L616.11,175.04 L616.66,175.30 L617.21,175.56 L617.76,175.81 L618.31,176.06 L618.86,176.31 L619.41,176.55 L619.96,176.78 L620.51,177.01 L621.06,177.24 L621.61,177.46 L622.17,177.69 L622.72,177.91 L623.27,178.13 L623.82,178.35 L624.37,178.56 L624.92,178.78 L625.47,178.99 L626.02,179.20 L626.57,179.41 L627.12,179.62 L627.67,179.83 L628.22,180.03 L628.77,180.24 L629.32,180.44 L629.87,180.64 L630.42,180.84 L630.97,181.04 L631.53,181.24 L632.08,181.44 L632.63,181.65 L633.18,181.86 L633.73,182.09 L634.28,182.31 L634.83,182.54 L635.38,182.76 L635.93,182.98 L636.48,183.18 L637.03,183.38 L637.58,183.57 L638.13,183.74 L638.68,183.88 L639.23,184.01 L639.78,184.12 L640.34,184.19 L640.89,184.25 L641.44,184.31 L641.99,184.36 L642.54,184.41 L643.09,184.46 L643.64,184.51 L644.19,184.55 L644.74,184.60 L645.29,184.63 L645.84,184.67 L646.39,184.70 L646.94,184.73 L647.49,184.75 L648.04,184.77 L648.59,184.78 L649.14,184.79 L649.70,184.80 L650.25,184.80 L650.80,184.80 L651.35,184.80 L651.90,184.80 L652.45,184.80 L653.00,184.80 L653.55,184.80 L654.10,184.80 L654.65,184.80 L655.20,184.80 L655.75,184.80 L656.30,184.80 L656.85,184.80 L657.40,184.80 L657.95,184.80 L658.51,184.80 L659.06,184.80 L659.61,184.80 L660.16,184.80 L660.71,184.80 L661.26,184.80 L661.81,184.80 L662.36,184.80 L662.91,184.80 L663.46,184.80 L664.01,184.80 L664.56,184.80 L665.11,184.80 L665.66,184.80 L666.21,184.80 L666.76,184.80 L667.31,184.80 L667.87,184.80 L668.42,184.80 L668.97,184.80 L669.52,184.80 L670.07,184.80 L670.62,184.80 L671.17,184.80 L671.72,184.80 L672.27,184.80 L672.82,184.80 L673.37,184.80 L673.92,184.80 L674.47,184.80 L675.02,184.80 L675.57,184.80 L676.12,184.80 L676.67,184.80 L677.23,184.80 L677.78,184.80 L678.33,184.80 L678.88,184.80 L679.43,184.80 L679.98,184.80 L680.53,184.80 L681.08,184.80 L681.63,184.80 L682.18,184.80 L682.73,184.80 L683.28,184.80 L683.83,184.80 L684.38,184.80 L684.93,184.80 L685.48,184.80 L686.04,184.80 L686.59,184.80 L687.14,184.80 L687.69,184.80 L688.24,184.80 L688.79,184.80 L689.34,184.80 L689.89,184.80 L690.44,184.80 L690.99,184.80 L691.54,184.80 L692.09,184.80 L692.64,184.80 L693.19,184.80 L693.74,184.80 L694.29,184.80 L694.84,184.80 L695.40,184.80 L695.95,184.80 L696.50,184.80 L697.05,184.80 L697.60,184.80 L698.15,184.80 L698.70,184.80 L699.25,184.80 L699.80,184.80 L700.35,184.80 L700.90,184.80 L701.45,184.80 L702.00,184.80 L702.55,184.80 L703.10,184.80 L703.65,184.80 L704.20,184.80 L704.76,184.80 L705.31,184.80 L705.86,184.80 L706.41,184.80 L706.96,184.80 L707.51,184.80 L708.06,184.80 L708.61,184.80 L709.16,184.80 L709.71,184.80 L710.26,184.80 L710.81,184.80 L711.36,184.80 L711.91,184.80 L712.46,184.80 L713.01,184.80 L713.57,184.80 L714.12,184.80 L714.67,184.80 L715.22,184.80 L715.77,184.80 L716.32,184.80 L716.87,184.80 L717.42,184.80 L717.97,184.80 L718.52,184.80 L719.07,184.80 L719.62,184.80 L720.17,184.80 L720.72,184.80 L721.27,184.80 L721.82,184.80 L722.37,184.80 L722.93,184.80 L723.48,184.80 L724.03,184.80 L724.58,184.80 L725.13,184.80 L725.68,184.80 L726.23,184.80 L726.78,184.80 L727.33,184.80 L727.88,184.80 L728.43,184.80 L728.98,184.80 L729.53,184.80 L730.08,184.80 L730.63,184.80 L731.18,184.80 L731.73,184.80 L732.29,184.80 L732.84,184.80 L733.39,184.80 L733.94,184.80 L734.49,184.80 L735.04,184.80 L735.59,184.80 L736.14,184.80 L736.69,184.80 L737.24,184.80 L737.79,184.80 L738.34,184.80 L738.89,184.80 L739.44,184.80 L739.99,184.80 L740.54,184.80 L741.10,184.80 L741.65,184.80 L742.20,184.80 L742.75,184.80 L743.30,184.80 L743.85,184.80 L744.40,184.80 L744.95,184.80 L745.50,184.80" fill="none" stroke="#0000ff" stroke-width="2.1" stroke-dasharray="8 8"/>
<path d="M470.75,230.80 L471.30,230.80 L471.85,230.80 L472.40,230.80 L472.95,230.80 L473.50,230.80 L474.05,230.80 L474.60,230.80 L475.15,230.80 L475.71,230.80 L476.26,230.80 L476.81,230.80 L477.36,230.80 L477.91,230.80 L478.46,230.80 L479.01,230.80 L479.56,230.80 L480.11,230.80 L480.66,230.80 L481.21,230.80 L481.76,230.80 L482.31,230.80 L482.86,230.80 L483.41,230.80 L483.96,230.80 L484.52,230.80 L485.07,230.80 L485.62,230.80 L486.17,230.80 L486.72,230.80 L487.27,230.80 L487.82,230.80 L488.37,230.80 L488.92,230.80 L489.47,230.80 L490.02,230.80 L490.57,230.80 L491.12,230.80 L491.67,230.80 L492.22,230.80 L492.77,230.80 L493.32,230.80 L493.88,230.80 L494.43,230.80 L494.98,230.80 L495.53,230.80 L496.08,230.80 L496.63,230.80 L497.18,230.80 L497.73,230.80 L498.28,230.80 L498.83,230.80 L499.38,230.80 L499.93,230.80 L500.48,230.80 L501.03,230.80 L501.58,230.80 L502.13,230.80 L502.68,230.80 L503.24,230.80 L503.79,230.80 L504.34,230.80 L504.89,230.80 L505.44,230.80 L505.99,230.80 L506.54,230.80 L507.09,230.80 L507.64,230.80 L508.19,230.80 L508.74,230.80 L509.29,230.80 L509.84,230.80 L510.39,230.80 L510.94,230.80 L511.49,230.80 L512.05,230.80 L512.60,230.80 L513.15,230.80 L513.70,230.80 L514.25,230.80 L514.80,230.80 L515.35,230.80 L515.90,230.80 L516.45,230.80 L517.00,230.80 L517.55,230.80 L518.10,230.80 L518.65,230.80 L519.20,230.80 L519.75,230.80 L520.30,230.80 L520.85,230.80 L521.41,230.80 L521.96,230.80 L522.51,230.80 L523.06,230.80 L523.61,230.80 L524.16,230.80 L524.71,230.79 L525.26,230.79 L525.81,230.79 L526.36,230.79 L526.91,230.79 L527.46,230.79 L528.01,230.79 L528.56,230.79 L529.11,230.79 L529.66,230.79 L530.21,230.79 L530.77,230.79 L531.32,230.79 L531.87,230.79 L532.42,230.79 L532.97,230.79 L533.52,230.79 L534.07,230.79 L534.62,230.79 L535.17,230.79 L535.72,230.79 L536.27,230.79 L536.82,230.79 L537.37,230.79 L537.92,230.79 L538.47,230.79 L539.02,230.79 L539.58,230.79 L540.13,230.79 L540.68,230.79 L541.23,230.79 L541.78,230.79 L542.33,230.79 L542.88,230.79 L543.43,230.79 L543.98,230.79 L544.53,230.79 L545.08,230.79 L545.63,230.79 L546.18,230.79 L546.73,230.79 L547.28,230.79 L547.83,230.79 L548.38,230.79 L548.94,230.79 L549.49,230.79 L550.04,230.79 L550.59,230.79 L551.14,230.79 L551.69,230.79 L552.24,230.79 L552.79,230.79 L553.34,230.78 L553.89,230.78 L554.44,230.78 L554.99,230.78 L555.54,230.78 L556.09,230.78 L556.64,230.78 L557.19,230.78 L557.74,230.78 L558.30,230.78 L558.85,230.78 L559.40,230.78 L559.95,230.78 L560.50,230.78 L561.05,230.78 L561.60,230.78 L562.15,230.78 L562.70,230.78 L563.25,230.78 L563.80,230.78 L564.35,230.78 L564.90,230.78 L565.45,230.78 L566.00,230.78 L566.55,230.78 L567.11,230.78 L567.66,230.78 L568.21,230.78 L568.76,230.78 L569.31,230.78 L569.86,230.78 L570.41,230.78 L570.96,230.77 L571.51,230.77 L572.06,230.77 L572.61,230.77 L573.16,230.77 L573.71,230.77 L574.26,230.77 L574.81,230.77 L575.36,230.77 L575.91,230.77 L576.47,230.77 L577.02,230.77 L577.57,230.77 L578.12,230.77 L578.67,230.77 L579.22,230.77 L579.77,230.77 L580.32,230.77 L580.87,230.77 L581.42,230.77 L581.97,230.77 L582.52,230.77 L583.07,230.77 L583.62,230.77 L584.17,230.76 L584.72,230.76 L585.28,230.76 L585.83,230.76 L586.38,230.76 L586.93,230.76 L587.48,230.76 L588.03,230.76 L588.58,230.76 L589.13,230.76 L589.68,230.76 L590.23,230.76 L590.78,230.76 L591.33,230.76 L591.88,230.76 L592.43,230.76 L592.98,230.76 L593.53,230.76 L594.08,230.76 L594.64,230.76 L595.19,230.75 L595.74,230.75 L596.29,230.75 L596.84,230.75 L597.39,230.75 L597.94,230.75 L598.49,230.75 L599.04,230.75 L599.59,230.75 L600.14,230.75 L600.69,230.75 L601.24,230.75 L601.79,230.75 L602.34,230.75 L602.89,230.75 L603.44,230.75 L604.00,230.75 L604.55,230.74 L605.10,230.74 L605.65,230.74 L606.20,230.74 L606.75,230.74 L607.30,230.74 L607.85,230.74 L608.40,230.74 L608.95,230.74 L609.50,230.74 L610.05,230.74 L610.60,230.74 L611.15,230.74 L611.70,230.74 L612.25,230.74 L612.81,230.74 L613.36,230.73 L613.91,230.73 L614.46,230.73 L615.01,230.73 L615.56,230.73 L616.11,230.73 L616.66,230.73 L617.21,230.73 L617.76,230.73 L618.31,230.73 L618.86,230.73 L619.41,230.73 L619.96,230.73 L620.51,230.73 L621.06,230.72 L621.61,230.72 L622.17,230.72 L622.72,230.72 L623.27,230.72 L623.82,230.72 L624.37,230.72 L624.92,230.72 L625.47,230.72 L626.02,230.72 L626.57,230.72 L627.12,230.72 L627.67,230.71 L628.22,230.71 L628.77,230.71 L629.32,230.71 L629.87,230.71 L630.42,230.71 L630.97,230.71 L631.53,230.71 L632.08,230.71 L632.63,230.71 L633.18,230.71 L633.73,230.71 L634.28,230.70 L634.83,230.70 L635.38,230.70 L635.93,230.70 L636.48,230.70 L637.03,230.70 L637.58,230.69 L638.13,230.68 L638.68,230.65 L639.23,230.62 L639.78,230.58 L640.34,230.54 L640.89,230.48 L641.44,230.43 L641.99,230.36 L642.54,230.30 L643.09,230.22 L643.64,230.15 L644.19,230.07 L644.74,229.99 L645.29,229.90 L645.84,229.82 L646.39,229.74 L646.94,229.65 L647.49,229.57 L648.04,229.48 L648.59,229.40 L649.14,229.32 L649.70,229.24 L650.25,229.17 L650.80,229.09 L651.35,229.02 L651.90,228.94 L652.45,228.86 L653.00,228.78 L653.55,228.70 L654.10,228.61 L654.65,228.53 L655.20,228.44 L655.75,228.35 L656.30,228.26 L656.85,228.17 L657.40,228.08 L657.95,227.98 L658.51,227.88 L659.06,227.78 L659.61,227.68 L660.16,227.57 L660.71,227.46 L661.26,227.35 L661.81,227.24 L662.36,227.12 L662.91,227.00 L663.46,226.88 L664.01,226.75 L664.56,226.62 L665.11,226.49 L665.66,226.35 L666.21,226.21 L666.76,226.07 L667.31,225.92 L667.87,225.76 L668.42,225.60 L668.97,225.43 L669.52,225.26 L670.07,225.08 L670.62,224.88 L671.17,224.67 L671.72,224.45 L672.27,224.21 L672.82,223.96 L673.37,223.71 L673.92,223.44 L674.47,223.17 L675.02,222.90 L675.57,222.62 L676.12,222.34 L676.67,222.06 L677.23,221.78 L677.78,221.50 L678.33,221.22 L678.88,220.95 L679.43,220.68 L679.98,220.42 L680.53,220.15 L681.08,219.88 L681.63,219.60 L682.18,219.32 L682.73,219.04 L683.28,218.77 L683.83,218.49 L684.38,218.22 L684.93,217.95 L685.48,217.68 L686.04,217.43 L686.59,217.18 L687.14,216.95 L687.69,216.72 L688.24,216.50 L688.79,216.27 L689.34,216.05 L689.89,215.82 L690.44,215.60 L690.99,215.39 L691.54,215.19 L692.09,215.00 L692.64,214.83 L693.19,214.67 L693.74,214.53 L694.29,214.42 L694.84,214.32 L695.40,214.23 L695.95,214.14 L696.50,214.05 L697.05,213.97 L697.60,213.90 L698.15,213.83 L698.70,213.76 L699.25,213.70 L699.80,213.65 L700.35,213.60 L700.90,213.56 L701.45,213.53 L702.00,213.50 L702.55,213.48 L703.10,213.45 L703.65,213.43 L704.20,213.41 L704.76,213.39 L705.31,213.37 L705.86,213.36 L706.41,213.34 L706.96,213.32 L707.51,213.31 L708.06,213.30 L708.61,213.28 L709.16,213.27 L709.71,213.27 L710.26,213.26 L710.81,213.25 L711.36,213.25 L711.91,213.25 L712.46,213.25 L713.01,213.25 L713.57,213.25 L714.12,213.25 L714.67,213.25 L715.22,213.25 L715.77,213.25 L716.32,213.25 L716.87,213.25 L717.42,213.25 L717.97,213.25 L718.52,213.25 L719.07,213.25 L719.62,213.25 L720.17,213.25 L720.72,213.25 L721.27,213.25 L721.82,213.25 L722.37,213.25 L722.93,213.25 L723.48,213.25 L724.03,213.25 L724.58,213.25 L725.13,213.25 L725.68,213.25 L726.23,213.25 L726.78,213.25 L727.33,213.25 L727.88,213.25 L728.43,213.25 L728.98,213.25 L729.53,213.25 L730.08,213.25 L730.63,213.25 L731.18,213.25 L731.73,213.25 L732.29,213.25 L732.84,213.25 L733.39,213.25 L733.94,213.25 L734.49,213.25 L735.04,213.25 L735.59,213.25 L736.14,213.25 L736.69,213.25 L737.24,213.25 L737.79,213.25 L738.34,213.25 L738.89,213.25 L739.44,213.25 L739.99,213.25 L740.54,213.25 L741.10,213.25 L741.65,213.25 L742.20,213.25 L742.75,213.25 L743.30,213.25 L743.85,213.25 L744.40,213.25 L744.95,213.25 L745.50,213.25" fill="none" stroke="#0000ff" stroke-width="2.3"/>
<path d="M470.75,230.70 L471.30,230.70 L471.85,230.70 L472.40,230.70 L472.95,230.70 L473.50,230.70 L474.05,230.70 L474.60,230.70 L475.15,230.70 L475.71,230.70 L476.26,230.70 L476.81,230.70 L477.36,230.70 L477.91,230.70 L478.46,230.70 L479.01,230.70 L479.56,230.70 L480.11,230.70 L480.66,230.70 L481.21,230.70 L481.76,230.70 L482.31,230.70 L482.86,230.70 L483.41,230.70 L483.96,230.70 L484.52,230.70 L485.07,230.70 L485.62,230.70 L486.17,230.70 L486.72,230.70 L487.27,230.70 L487.82,230.70 L488.37,230.70 L488.92,230.70 L489.47,230.70 L490.02,230.70 L490.57,230.70 L491.12,230.70 L491.67,230.70 L492.22,230.70 L492.77,230.70 L493.32,230.70 L493.88,230.70 L494.43,230.70 L494.98,230.70 L495.53,230.70 L496.08,230.70 L496.63,230.70 L497.18,230.70 L497.73,230.70 L498.28,230.70 L498.83,230.70 L499.38,230.70 L499.93,230.70 L500.48,230.70 L501.03,230.70 L501.58,230.70 L502.13,230.70 L502.68,230.70 L503.24,230.70 L503.79,230.70 L504.34,230.70 L504.89,230.70 L505.44,230.70 L505.99,230.70 L506.54,230.70 L507.09,230.70 L507.64,230.70 L508.19,230.70 L508.74,230.70 L509.29,230.70 L509.84,230.70 L510.39,230.70 L510.94,230.70 L511.49,230.70 L512.05,230.70 L512.60,230.70 L513.15,230.70 L513.70,230.70 L514.25,230.69 L514.80,230.69 L515.35,230.69 L515.90,230.69 L516.45,230.69 L517.00,230.69 L517.55,230.69 L518.10,230.69 L518.65,230.69 L519.20,230.69 L519.75,230.69 L520.30,230.69 L520.85,230.69 L521.41,230.69 L521.96,230.69 L522.51,230.69 L523.06,230.69 L523.61,230.69 L524.16,230.69 L524.71,230.69 L525.26,230.69 L525.81,230.69 L526.36,230.69 L526.91,230.69 L527.46,230.69 L528.01,230.69 L528.56,230.69 L529.11,230.69 L529.66,230.69 L530.21,230.69 L530.77,230.69 L531.32,230.69 L531.87,230.69 L532.42,230.69 L532.97,230.69 L533.52,230.69 L534.07,230.69 L534.62,230.69 L535.17,230.69 L535.72,230.69 L536.27,230.69 L536.82,230.69 L537.37,230.69 L537.92,230.68 L538.47,230.68 L539.02,230.68 L539.58,230.68 L540.13,230.68 L540.68,230.68 L541.23,230.68 L541.78,230.68 L542.33,230.68 L542.88,230.68 L543.43,230.68 L543.98,230.68 L544.53,230.68 L545.08,230.68 L545.63,230.68 L546.18,230.68 L546.73,230.68 L547.28,230.68 L547.83,230.68 L548.38,230.68 L548.94,230.68 L549.49,230.68 L550.04,230.68 L550.59,230.68 L551.14,230.68 L551.69,230.68 L552.24,230.67 L552.79,230.67 L553.34,230.67 L553.89,230.67 L554.44,230.67 L554.99,230.67 L555.54,230.67 L556.09,230.67 L556.64,230.67 L557.19,230.67 L557.74,230.67 L558.30,230.67 L558.85,230.67 L559.40,230.67 L559.95,230.67 L560.50,230.67 L561.05,230.67 L561.60,230.67 L562.15,230.67 L562.70,230.67 L563.25,230.66 L563.80,230.66 L564.35,230.66 L564.90,230.66 L565.45,230.66 L566.00,230.66 L566.55,230.66 L567.11,230.66 L567.66,230.66 L568.21,230.66 L568.76,230.66 L569.31,230.66 L569.86,230.66 L570.41,230.66 L570.96,230.66 L571.51,230.66 L572.06,230.66 L572.61,230.65 L573.16,230.65 L573.71,230.65 L574.26,230.65 L574.81,230.65 L575.36,230.65 L575.91,230.65 L576.47,230.65 L577.02,230.65 L577.57,230.65 L578.12,230.65 L578.67,230.65 L579.22,230.65 L579.77,230.65 L580.32,230.64 L580.87,230.64 L581.42,230.64 L581.97,230.64 L582.52,230.64 L583.07,230.64 L583.62,230.64 L584.17,230.64 L584.72,230.64 L585.28,230.64 L585.83,230.64 L586.38,230.64 L586.93,230.64 L587.48,230.63 L588.03,230.63 L588.58,230.63 L589.13,230.63 L589.68,230.63 L590.23,230.63 L590.78,230.63 L591.33,230.63 L591.88,230.63 L592.43,230.63 L592.98,230.63 L593.53,230.62 L594.08,230.62 L594.64,230.62 L595.19,230.62 L595.74,230.62 L596.29,230.62 L596.84,230.62 L597.39,230.62 L597.94,230.62 L598.49,230.62 L599.04,230.62 L599.59,230.61 L600.14,230.61 L600.69,230.61 L601.24,230.61 L601.79,230.61 L602.34,230.61 L602.89,230.61 L603.44,230.61 L604.00,230.61 L604.55,230.60 L605.10,230.60 L605.65,230.60 L606.20,230.60 L606.75,230.60 L607.30,230.60 L607.85,230.59 L608.40,230.58 L608.95,230.56 L609.50,230.53 L610.05,230.50 L610.60,230.47 L611.15,230.43 L611.70,230.39 L612.25,230.35 L612.81,230.30 L613.36,230.25 L613.91,230.20 L614.46,230.15 L615.01,230.09 L615.56,230.04 L616.11,229.99 L616.66,229.93 L617.21,229.88 L617.76,229.82 L618.31,229.77 L618.86,229.72 L619.41,229.66 L619.96,229.60 L620.51,229.54 L621.06,229.48 L621.61,229.42 L622.17,229.35 L622.72,229.28 L623.27,229.21 L623.82,229.14 L624.37,229.07 L624.92,228.99 L625.47,228.92 L626.02,228.84 L626.57,228.76 L627.12,228.67 L627.67,228.59 L628.22,228.50 L628.77,228.41 L629.32,228.32 L629.87,228.23 L630.42,228.13 L630.97,228.03 L631.53,227.93 L632.08,227.83 L632.63,227.73 L633.18,227.62 L633.73,227.51 L634.28,227.40 L634.83,227.27 L635.38,227.14 L635.93,227.00 L636.48,226.85 L637.03,226.70 L637.58,226.55 L638.13,226.39 L638.68,226.23 L639.23,226.06 L639.78,225.89 L640.34,225.72 L640.89,225.55 L641.44,225.38 L641.99,225.21 L642.54,225.03 L643.09,224.85 L643.64,224.66 L644.19,224.47 L644.74,224.27 L645.29,224.07 L645.84,223.87 L646.39,223.67 L646.94,223.46 L647.49,223.25 L648.04,223.04 L648.59,222.83 L649.14,222.62 L649.70,222.42 L650.25,222.21 L650.80,222.00 L651.35,221.78 L651.90,221.56 L652.45,221.35 L653.00,221.13 L653.55,220.90 L654.10,220.68 L654.65,220.46 L655.20,220.24 L655.75,220.01 L656.30,219.79 L656.85,219.57 L657.40,219.35 L657.95,219.14 L658.51,218.92 L659.06,218.71 L659.61,218.50 L660.16,218.29 L660.71,218.08 L661.26,217.87 L661.81,217.66 L662.36,217.45 L662.91,217.23 L663.46,217.02 L664.01,216.79 L664.56,216.54 L665.11,216.30 L665.66,216.05 L666.21,215.81 L666.76,215.57 L667.31,215.34 L667.87,215.13 L668.42,214.94 L668.97,214.78 L669.52,214.64 L670.07,214.53 L670.62,214.42 L671.17,214.32 L671.72,214.22 L672.27,214.12 L672.82,214.03 L673.37,213.95 L673.92,213.87 L674.47,213.80 L675.02,213.73 L675.57,213.67 L676.12,213.62 L676.67,213.57 L677.23,213.54 L677.78,213.51 L678.33,213.49 L678.88,213.47 L679.43,213.45 L679.98,213.43 L680.53,213.41 L681.08,213.39 L681.63,213.38 L682.18,213.36 L682.73,213.35 L683.28,213.33 L683.83,213.32 L684.38,213.31 L684.93,213.30 L685.48,213.29 L686.04,213.28 L686.59,213.27 L687.14,213.27 L687.69,213.26 L688.24,213.26 L688.79,213.25 L689.34,213.25 L689.89,213.25 L690.44,213.25 L690.99,213.25 L691.54,213.25 L692.09,213.25 L692.64,213.25 L693.19,213.25 L693.74,213.25 L694.29,213.25 L694.84,213.25 L695.40,213.25 L695.95,213.25 L696.50,213.25 L697.05,213.25 L697.60,213.25 L698.15,213.25 L698.70,213.25 L699.25,213.25 L699.80,213.25 L700.35,213.25 L700.90,213.25 L701.45,213.25 L702.00,213.25 L702.55,213.25 L703.10,213.25 L703.65,213.25 L704.20,213.25 L704.76,213.25 L705.31,213.25 L705.86,213.25 L706.41,213.25 L706.96,213.25 L707.51,213.25 L708.06,213.25 L708.61,213.25 L709.16,213.25 L709.71,213.25 L710.26,213.25 L710.81,213.25 L711.36,213.25 L711.91,213.25 L712.46,213.25 L713.01,213.25 L713.57,213.25 L714.12,213.25 L714.67,213.25 L715.22,213.25 L715.77,213.25 L716.32,213.25 L716.87,213.25 L717.42,213.25 L717.97,213.25 L718.52,213.25 L719.07,213.25 L719.62,213.25 L720.17,213.25 L720.72,213.25 L721.27,213.25 L721.82,213.25 L722.37,213.25 L722.93,213.25 L723.48,213.25 L724.03,213.25 L724.58,213.25 L725.13,213.25 L725.68,213.25 L726.23,213.25 L726.78,213.25 L727.33,213.25 L727.88,213.25 L728.43,213.25 L728.98,213.25 L729.53,213.25 L730.08,213.25 L730.63,213.25 L731.18,213.25 L731.73,213.25 L732.29,213.25 L732.84,213.25 L733.39,213.25 L733.94,213.25 L734.49,213.25 L735.04,213.25 L735.59,213.25 L736.14,213.25 L736.69,213.25 L737.24,213.25 L737.79,213.25 L738.34,213.25 L738.89,213.25 L739.44,213.25 L739.99,213.25 L740.54,213.25 L741.10,213.25 L741.65,213.25 L742.20,213.25 L742.75,213.25 L743.30,213.25 L743.85,213.25 L744.40,213.25 L744.95,213.25 L745.50,213.25" fill="none" stroke="#0000ff" stroke-width="2.3"/>
<path d="M470.75,230.60 L471.30,230.60 L471.85,230.60 L472.40,230.60 L472.95,230.60 L473.50,230.60 L474.05,230.60 L474.60,230.60 L475.15,230.60 L475.71,230.60 L476.26,230.60 L476.81,230.60 L477.36,230.60 L477.91,230.60 L478.46,230.60 L479.01,230.60 L479.56,230.60 L480.11,230.60 L480.66,230.60 L481.21,230.60 L481.76,230.60 L482.31,230.60 L482.86,230.60 L483.41,230.60 L483.96,230.60 L484.52,230.60 L485.07,230.60 L485.62,230.60 L486.17,230.60 L486.72,230.60 L487.27,230.60 L487.82,230.60 L488.37,230.60 L488.92,230.60 L489.47,230.60 L490.02,230.60 L490.57,230.60 L491.12,230.60 L491.67,230.60 L492.22,230.60 L492.77,230.60 L493.32,230.59 L493.88,230.59 L494.43,230.59 L494.98,230.59 L495.53,230.59 L496.08,230.59 L496.63,230.59 L497.18,230.59 L497.73,230.59 L498.28,230.59 L498.83,230.59 L499.38,230.59 L499.93,230.59 L500.48,230.59 L501.03,230.59 L501.58,230.59 L502.13,230.59 L502.68,230.59 L503.24,230.59 L503.79,230.59 L504.34,230.59 L504.89,230.59 L505.44,230.59 L505.99,230.59 L506.54,230.59 L507.09,230.58 L507.64,230.58 L508.19,230.58 L508.74,230.58 L509.29,230.58 L509.84,230.58 L510.39,230.58 L510.94,230.58 L511.49,230.58 L512.05,230.58 L512.60,230.58 L513.15,230.58 L513.70,230.58 L514.25,230.58 L514.80,230.58 L515.35,230.58 L515.90,230.57 L516.45,230.57 L517.00,230.57 L517.55,230.57 L518.10,230.57 L518.65,230.57 L519.20,230.57 L519.75,230.57 L520.30,230.57 L520.85,230.57 L521.41,230.57 L521.96,230.57 L522.51,230.57 L523.06,230.56 L523.61,230.56 L524.16,230.56 L524.71,230.56 L525.26,230.56 L525.81,230.56 L526.36,230.56 L526.91,230.56 L527.46,230.56 L528.01,230.56 L528.56,230.55 L529.11,230.55 L529.66,230.55 L530.21,230.55 L530.77,230.55 L531.32,230.55 L531.87,230.55 L532.42,230.55 L532.97,230.55 L533.52,230.54 L534.07,230.54 L534.62,230.54 L535.17,230.54 L535.72,230.54 L536.27,230.54 L536.82,230.54 L537.37,230.54 L537.92,230.53 L538.47,230.53 L539.02,230.53 L539.58,230.53 L540.13,230.53 L540.68,230.53 L541.23,230.53 L541.78,230.52 L542.33,230.52 L542.88,230.52 L543.43,230.52 L543.98,230.52 L544.53,230.52 L545.08,230.52 L545.63,230.51 L546.18,230.51 L546.73,230.51 L547.28,230.51 L547.83,230.51 L548.38,230.51 L548.94,230.50 L549.49,230.50 L550.04,230.50 L550.59,230.50 L551.14,230.50 L551.69,230.50 L552.24,230.49 L552.79,230.49 L553.34,230.49 L553.89,230.49 L554.44,230.49 L554.99,230.48 L555.54,230.48 L556.09,230.48 L556.64,230.48 L557.19,230.48 L557.74,230.47 L558.30,230.47 L558.85,230.47 L559.40,230.47 L559.95,230.47 L560.50,230.46 L561.05,230.46 L561.60,230.46 L562.15,230.46 L562.70,230.46 L563.25,230.45 L563.80,230.45 L564.35,230.45 L564.90,230.45 L565.45,230.44 L566.00,230.44 L566.55,230.44 L567.11,230.44 L567.66,230.43 L568.21,230.43 L568.76,230.43 L569.31,230.43 L569.86,230.42 L570.41,230.42 L570.96,230.42 L571.51,230.42 L572.06,230.41 L572.61,230.41 L573.16,230.41 L573.71,230.41 L574.26,230.40 L574.81,230.40 L575.36,230.40 L575.91,230.39 L576.47,230.38 L577.02,230.37 L577.57,230.35 L578.12,230.33 L578.67,230.31 L579.22,230.28 L579.77,230.25 L580.32,230.22 L580.87,230.19 L581.42,230.16 L581.97,230.12 L582.52,230.08 L583.07,230.05 L583.62,230.00 L584.17,229.96 L584.72,229.92 L585.28,229.88 L585.83,229.82 L586.38,229.76 L586.93,229.69 L587.48,229.61 L588.03,229.53 L588.58,229.44 L589.13,229.34 L589.68,229.24 L590.23,229.14 L590.78,229.03 L591.33,228.92 L591.88,228.82 L592.43,228.71 L592.98,228.60 L593.53,228.50 L594.08,228.39 L594.64,228.28 L595.19,228.16 L595.74,228.04 L596.29,227.92 L596.84,227.80 L597.39,227.67 L597.94,227.53 L598.49,227.40 L599.04,227.26 L599.59,227.11 L600.14,226.96 L600.69,226.80 L601.24,226.63 L601.79,226.46 L602.34,226.28 L602.89,226.09 L603.44,225.89 L604.00,225.69 L604.55,225.49 L605.10,225.29 L605.65,225.08 L606.20,224.88 L606.75,224.67 L607.30,224.47 L607.85,224.26 L608.40,224.06 L608.95,223.87 L609.50,223.67 L610.05,223.47 L610.60,223.27 L611.15,223.06 L611.70,222.86 L612.25,222.66 L612.81,222.46 L613.36,222.25 L613.91,222.05 L614.46,221.84 L615.01,221.64 L615.56,221.43 L616.11,221.22 L616.66,221.02 L617.21,220.81 L617.76,220.59 L618.31,220.38 L618.86,220.16 L619.41,219.94 L619.96,219.72 L620.51,219.49 L621.06,219.27 L621.61,219.06 L622.17,218.84 L622.72,218.63 L623.27,218.42 L623.82,218.22 L624.37,218.02 L624.92,217.83 L625.47,217.64 L626.02,217.45 L626.57,217.27 L627.12,217.08 L627.67,216.89 L628.22,216.71 L628.77,216.53 L629.32,216.36 L629.87,216.19 L630.42,216.02 L630.97,215.87 L631.53,215.72 L632.08,215.58 L632.63,215.45 L633.18,215.33 L633.73,215.21 L634.28,215.10 L634.83,215.00 L635.38,214.90 L635.93,214.80 L636.48,214.70 L637.03,214.61 L637.58,214.53 L638.13,214.44 L638.68,214.36 L639.23,214.29 L639.78,214.22 L640.34,214.15 L640.89,214.09 L641.44,214.03 L641.99,213.97 L642.54,213.92 L643.09,213.87 L643.64,213.81 L644.19,213.76 L644.74,213.72 L645.29,213.67 L645.84,213.62 L646.39,213.58 L646.94,213.55 L647.49,213.51 L648.04,213.48 L648.59,213.45 L649.14,213.43 L649.70,213.41 L650.25,213.39 L650.80,213.38 L651.35,213.37 L651.90,213.35 L652.45,213.34 L653.00,213.33 L653.55,213.32 L654.10,213.31 L654.65,213.30 L655.20,213.29 L655.75,213.28 L656.30,213.27 L656.85,213.27 L657.40,213.26 L657.95,213.26 L658.51,213.25 L659.06,213.25 L659.61,213.25 L660.16,213.25 L660.71,213.25 L661.26,213.25 L661.81,213.25 L662.36,213.25 L662.91,213.25 L663.46,213.25 L664.01,213.25 L664.56,213.25 L665.11,213.25 L665.66,213.25 L666.21,213.25 L666.76,213.25 L667.31,213.25 L667.87,213.25 L668.42,213.25 L668.97,213.25 L669.52,213.25 L670.07,213.25 L670.62,213.25 L671.17,213.25 L671.72,213.25 L672.27,213.25 L672.82,213.25 L673.37,213.25 L673.92,213.25 L674.47,213.25 L675.02,213.25 L675.57,213.25 L676.12,213.25 L676.67,213.25 L677.23,213.25 L677.78,213.25 L678.33,213.25 L678.88,213.25 L679.43,213.25 L679.98,213.25 L680.53,213.25 L681.08,213.25 L681.63,213.25 L682.18,213.25 L682.73,213.25 L683.28,213.25 L683.83,213.25 L684.38,213.25 L684.93,213.25 L685.48,213.25 L686.04,213.25 L686.59,213.25 L687.14,213.25 L687.69,213.25 L688.24,213.25 L688.79,213.25 L689.34,213.25 L689.89,213.25 L690.44,213.25 L690.99,213.25 L691.54,213.25 L692.09,213.25 L692.64,213.25 L693.19,213.25 L693.74,213.25 L694.29,213.25 L694.84,213.25 L695.40,213.25 L695.95,213.25 L696.50,213.25 L697.05,213.25 L697.60,213.25 L698.15,213.25 L698.70,213.25 L699.25,213.25 L699.80,213.25 L700.35,213.25 L700.90,213.25 L701.45,213.25 L702.00,213.25 L702.55,213.25 L703.10,213.25 L703.65,213.25 L704.20,213.25 L704.76,213.25 L705.31,213.25 L705.86,213.25 L706.41,213.25 L706.96,213.25 L707.51,213.25 L708.06,213.25 L708.61,213.25 L709.16,213.25 L709.71,213.25 L710.26,213.25 L710.81,213.25 L711.36,213.25 L711.91,213.25 L712.46,213.25 L713.01,213.25 L713.57,213.25 L714.12,213.25 L714.67,213.25 L715.22,213.25 L715.77,213.25 L716.32,213.25 L716.87,213.25 L717.42,213.25 L717.97,213.25 L718.52,213.25 L719.07,213.25 L719.62,213.25 L720.17,213.25 L720.72,213.25 L721.27,213.25 L721.82,213.25 L722.37,213.25 L722.93,213.25 L723.48,213.25 L724.03,213.25 L724.58,213.25 L725.13,213.25 L725.68,213.25 L726.23,213.25 L726.78,213.25 L727.33,213.25 L727.88,213.25 L728.43,213.25 L728.98,213.25 L729.53,213.25 L730.08,213.25 L730.63,213.25 L731.18,213.25 L731.73,213.25 L732.29,213.25 L732.84,213.25 L733.39,213.25 L733.94,213.25 L734.49,213.25 L735.04,213.25 L735.59,213.25 L736.14,213.25 L736.69,213.25 L737.24,213.25 L737.79,213.25 L738.34,213.25 L738.89,213.25 L739.44,213.25 L739.99,213.25 L740.54,213.25 L741.10,213.25 L741.65,213.25 L742.20,213.25 L742.75,213.25 L743.30,213.25 L743.85,213.25 L744.40,213.25 L744.95,213.25 L745.50,213.25" fill="none" stroke="#0000ff" stroke-width="2.3"/>
<text transform="translate(565.11,270.30) scale(1,1.0)" font-size="14.5" text-anchor="start" fill="#262626" stroke="#262626" stroke-width="0.12" >time (s)</text>
<text transform="translate(406.7,143.2) rotate(-90)" font-size="14.4" fill="#262626" stroke="#262626" stroke-width="0.12">copies</text>
<text transform="translate(630.48,36.40) scale(1,1.0)" font-size="13.2" text-anchor="start" fill="#000" stroke="#000" stroke-width="0.12" >increasing k</text>
<text transform="translate(701.40,43.00) scale(1,1.0)" font-size="10" text-anchor="start" fill="#000" stroke="#000" stroke-width="0.12" >a</text>
<path d="M622.50,32.00 L527.65,60.87" stroke="#000" stroke-width="0.6"/>
<path d="M523.30,62.20 L528.76,57.82 L527.65,60.87 L530.28,62.79 Z" fill="#000"/>
<path d="M672.90,152.30 L659.45,155.16" stroke="#000" stroke-width="0.6"/>
<path d="M655.00,156.10 L660.82,152.21 L659.45,155.16 L661.90,157.29 Z" fill="#000"/>
<path d="M604.20,212.50 L613.63,215.94" stroke="#000" stroke-width="0.6"/>
<path d="M617.90,217.50 L610.90,217.71 L613.63,215.94 L612.69,212.83 Z" fill="#000"/>
<text transform="translate(665.77,147.90) scale(1,1.0)" font-size="13.25" text-anchor="start" fill="#000" stroke="#000" stroke-width="0.12" >monomers</text>
<text transform="translate(542.27,215.90) scale(1,1.0)" font-size="13.3" text-anchor="start" fill="#000" stroke="#000" stroke-width="0.12" >hexamers</text>
<path d="M449.6,109.5 H468.3" stroke="#808080" stroke-width="2.4"/>
<text transform="translate(475.19,110.90) scale(1,1.0)" font-size="13.2" text-anchor="start" fill="#000" stroke="#000" stroke-width="0.12" >NERDSS</text>
<text transform="translate(475.35,127.70) scale(1,1.0)" font-size="13.2" text-anchor="start" fill="#000" stroke="#000" stroke-width="0.12" >simulations</text>
<path d="M448.2,150.9 H467.1" stroke="#0000ff" stroke-width="2.3"/>
<text transform="translate(475.14,160.70) scale(1,1.0)" font-size="13.2" text-anchor="start" fill="#000" stroke="#000" stroke-width="0.12" >ODE solution</text></svg>
</body></html>
